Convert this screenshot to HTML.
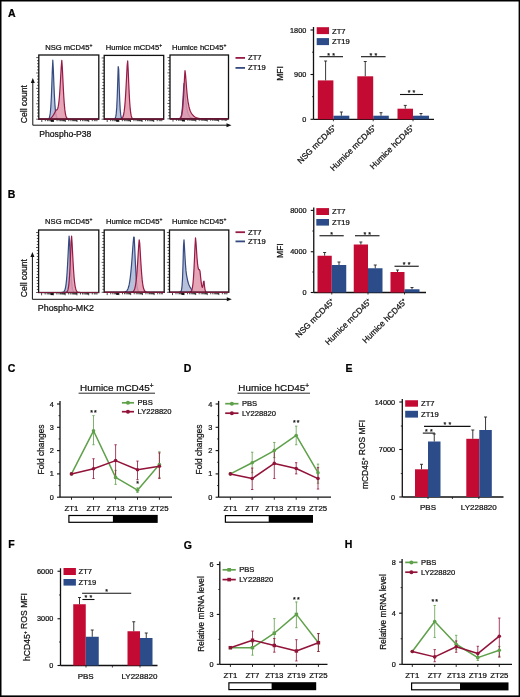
<!DOCTYPE html>
<html><head><meta charset="utf-8"><style>
html,body{margin:0;padding:0;background:#fff;width:520px;height:697px;overflow:hidden}
svg{display:block;filter:blur(0.3px)}
text{font-family:"Liberation Sans", sans-serif;stroke:currentColor;stroke-width:0.24px}
</style></head><body>
<svg width="520" height="697" viewBox="0 0 520 697">
<rect width="520" height="697" fill="#fff"/>
<rect x="0" y="0" width="520" height="1.5" fill="#000"/>
<rect x="0" y="0" width="1.5" height="697" fill="#000"/>
<rect x="518.6" y="0" width="1.3999999999999773" height="697" fill="#000"/>
<rect x="0" y="695.4" width="520" height="1.6000000000000227" fill="#000"/>
<text x="8.0" y="16.6" font-size="10.5" text-anchor="start" font-weight="bold" fill="#000" color="#000">A</text>
<text x="7.75" y="197.8" font-size="10.5" text-anchor="start" font-weight="bold" fill="#000" color="#000">B</text>
<text x="7.75" y="372.2" font-size="10.5" text-anchor="start" font-weight="bold" fill="#000" color="#000">C</text>
<text x="183.85" y="372.1" font-size="10.5" text-anchor="start" font-weight="bold" fill="#000" color="#000">D</text>
<text x="345.45" y="372.1" font-size="10.5" text-anchor="start" font-weight="bold" fill="#000" color="#000">E</text>
<text x="8.35" y="548.4" font-size="10.5" text-anchor="start" font-weight="bold" fill="#000" color="#000">F</text>
<text x="183.85" y="548.5" font-size="10.5" text-anchor="start" font-weight="bold" fill="#000" color="#000">G</text>
<text x="344.85" y="548.4" font-size="10.5" text-anchor="start" font-weight="bold" fill="#000" color="#000">H</text>
<text x="68.8" y="49.8" font-size="7.6" text-anchor="middle" font-weight="normal" fill="#111" color="#111">NSG mCD45<tspan font-size="5" dy="-3">+</tspan></text>
<line x1="36.199999999999996" y1="119.2" x2="38.8" y2="119.2" stroke="#1a1a1a" stroke-width="0.7"/>
<line x1="37.0" y1="116.11840000000001" x2="38.8" y2="116.11840000000001" stroke="#1a1a1a" stroke-width="0.7"/>
<line x1="37.0" y1="113.0368" x2="38.8" y2="113.0368" stroke="#1a1a1a" stroke-width="0.7"/>
<line x1="37.0" y1="109.9552" x2="38.8" y2="109.9552" stroke="#1a1a1a" stroke-width="0.7"/>
<line x1="37.0" y1="106.87360000000001" x2="38.8" y2="106.87360000000001" stroke="#1a1a1a" stroke-width="0.7"/>
<line x1="36.199999999999996" y1="103.792" x2="38.8" y2="103.792" stroke="#1a1a1a" stroke-width="0.7"/>
<line x1="37.0" y1="100.7104" x2="38.8" y2="100.7104" stroke="#1a1a1a" stroke-width="0.7"/>
<line x1="37.0" y1="97.6288" x2="38.8" y2="97.6288" stroke="#1a1a1a" stroke-width="0.7"/>
<line x1="37.0" y1="94.5472" x2="38.8" y2="94.5472" stroke="#1a1a1a" stroke-width="0.7"/>
<line x1="37.0" y1="91.4656" x2="38.8" y2="91.4656" stroke="#1a1a1a" stroke-width="0.7"/>
<line x1="36.199999999999996" y1="88.384" x2="38.8" y2="88.384" stroke="#1a1a1a" stroke-width="0.7"/>
<line x1="37.0" y1="85.3024" x2="38.8" y2="85.3024" stroke="#1a1a1a" stroke-width="0.7"/>
<line x1="37.0" y1="82.2208" x2="38.8" y2="82.2208" stroke="#1a1a1a" stroke-width="0.7"/>
<line x1="37.0" y1="79.1392" x2="38.8" y2="79.1392" stroke="#1a1a1a" stroke-width="0.7"/>
<line x1="37.0" y1="76.05760000000001" x2="38.8" y2="76.05760000000001" stroke="#1a1a1a" stroke-width="0.7"/>
<line x1="36.199999999999996" y1="72.976" x2="38.8" y2="72.976" stroke="#1a1a1a" stroke-width="0.7"/>
<line x1="37.0" y1="69.8944" x2="38.8" y2="69.8944" stroke="#1a1a1a" stroke-width="0.7"/>
<line x1="37.0" y1="66.8128" x2="38.8" y2="66.8128" stroke="#1a1a1a" stroke-width="0.7"/>
<line x1="37.0" y1="63.731199999999994" x2="38.8" y2="63.731199999999994" stroke="#1a1a1a" stroke-width="0.7"/>
<line x1="37.0" y1="60.64960000000001" x2="38.8" y2="60.64960000000001" stroke="#1a1a1a" stroke-width="0.7"/>
<line x1="36.199999999999996" y1="57.568000000000005" x2="38.8" y2="57.568000000000005" stroke="#1a1a1a" stroke-width="0.7"/>
<line x1="41.8" y1="119.2" x2="41.8" y2="122.0" stroke="#1a1a1a" stroke-width="0.8"/>
<line x1="45.33383038388152" y1="119.2" x2="45.33383038388152" y2="121.2" stroke="#1a1a1a" stroke-width="0.8"/>
<line x1="47.400988642361256" y1="119.2" x2="47.400988642361256" y2="121.2" stroke="#1a1a1a" stroke-width="0.8"/>
<line x1="48.867660767763034" y1="119.2" x2="48.867660767763034" y2="121.2" stroke="#1a1a1a" stroke-width="0.8"/>
<line x1="50.005300050901084" y1="119.2" x2="50.005300050901084" y2="121.2" stroke="#1a1a1a" stroke-width="0.8"/>
<line x1="50.93481902624277" y1="119.2" x2="50.93481902624277" y2="121.2" stroke="#1a1a1a" stroke-width="0.8"/>
<line x1="51.72071612190649" y1="119.2" x2="51.72071612190649" y2="121.2" stroke="#1a1a1a" stroke-width="0.8"/>
<line x1="52.40149115164455" y1="119.2" x2="52.40149115164455" y2="121.2" stroke="#1a1a1a" stroke-width="0.8"/>
<line x1="53.00197728472251" y1="119.2" x2="53.00197728472251" y2="121.2" stroke="#1a1a1a" stroke-width="0.8"/>
<line x1="53.53913043478261" y1="119.2" x2="53.53913043478261" y2="122.0" stroke="#1a1a1a" stroke-width="0.8"/>
<line x1="57.07296081866413" y1="119.2" x2="57.07296081866413" y2="121.2" stroke="#1a1a1a" stroke-width="0.8"/>
<line x1="59.140119077143865" y1="119.2" x2="59.140119077143865" y2="121.2" stroke="#1a1a1a" stroke-width="0.8"/>
<line x1="60.606791202545644" y1="119.2" x2="60.606791202545644" y2="121.2" stroke="#1a1a1a" stroke-width="0.8"/>
<line x1="61.744430485683694" y1="119.2" x2="61.744430485683694" y2="121.2" stroke="#1a1a1a" stroke-width="0.8"/>
<line x1="62.67394946102538" y1="119.2" x2="62.67394946102538" y2="121.2" stroke="#1a1a1a" stroke-width="0.8"/>
<line x1="63.4598465566891" y1="119.2" x2="63.4598465566891" y2="121.2" stroke="#1a1a1a" stroke-width="0.8"/>
<line x1="64.14062158642716" y1="119.2" x2="64.14062158642716" y2="121.2" stroke="#1a1a1a" stroke-width="0.8"/>
<line x1="64.74110771950512" y1="119.2" x2="64.74110771950512" y2="121.2" stroke="#1a1a1a" stroke-width="0.8"/>
<line x1="65.27826086956522" y1="119.2" x2="65.27826086956522" y2="122.0" stroke="#1a1a1a" stroke-width="0.8"/>
<line x1="68.81209125344674" y1="119.2" x2="68.81209125344674" y2="121.2" stroke="#1a1a1a" stroke-width="0.8"/>
<line x1="70.87924951192647" y1="119.2" x2="70.87924951192647" y2="121.2" stroke="#1a1a1a" stroke-width="0.8"/>
<line x1="72.34592163732825" y1="119.2" x2="72.34592163732825" y2="121.2" stroke="#1a1a1a" stroke-width="0.8"/>
<line x1="73.4835609204663" y1="119.2" x2="73.4835609204663" y2="121.2" stroke="#1a1a1a" stroke-width="0.8"/>
<line x1="74.41307989580798" y1="119.2" x2="74.41307989580798" y2="121.2" stroke="#1a1a1a" stroke-width="0.8"/>
<line x1="75.19897699147171" y1="119.2" x2="75.19897699147171" y2="121.2" stroke="#1a1a1a" stroke-width="0.8"/>
<line x1="75.87975202120977" y1="119.2" x2="75.87975202120977" y2="121.2" stroke="#1a1a1a" stroke-width="0.8"/>
<line x1="76.48023815428772" y1="119.2" x2="76.48023815428772" y2="121.2" stroke="#1a1a1a" stroke-width="0.8"/>
<line x1="77.01739130434783" y1="119.2" x2="77.01739130434783" y2="122.0" stroke="#1a1a1a" stroke-width="0.8"/>
<line x1="80.55122168822935" y1="119.2" x2="80.55122168822935" y2="121.2" stroke="#1a1a1a" stroke-width="0.8"/>
<line x1="82.61837994670908" y1="119.2" x2="82.61837994670908" y2="121.2" stroke="#1a1a1a" stroke-width="0.8"/>
<line x1="84.08505207211087" y1="119.2" x2="84.08505207211087" y2="121.2" stroke="#1a1a1a" stroke-width="0.8"/>
<line x1="85.22269135524891" y1="119.2" x2="85.22269135524891" y2="121.2" stroke="#1a1a1a" stroke-width="0.8"/>
<line x1="86.1522103305906" y1="119.2" x2="86.1522103305906" y2="121.2" stroke="#1a1a1a" stroke-width="0.8"/>
<line x1="86.93810742625432" y1="119.2" x2="86.93810742625432" y2="121.2" stroke="#1a1a1a" stroke-width="0.8"/>
<line x1="87.61888245599238" y1="119.2" x2="87.61888245599238" y2="121.2" stroke="#1a1a1a" stroke-width="0.8"/>
<line x1="88.21936858907034" y1="119.2" x2="88.21936858907034" y2="121.2" stroke="#1a1a1a" stroke-width="0.8"/>
<line x1="88.75652173913043" y1="119.2" x2="88.75652173913043" y2="122.0" stroke="#1a1a1a" stroke-width="0.8"/>
<line x1="92.29035212301196" y1="119.2" x2="92.29035212301196" y2="121.2" stroke="#1a1a1a" stroke-width="0.8"/>
<line x1="94.3575103814917" y1="119.2" x2="94.3575103814917" y2="121.2" stroke="#1a1a1a" stroke-width="0.8"/>
<line x1="95.82418250689346" y1="119.2" x2="95.82418250689346" y2="121.2" stroke="#1a1a1a" stroke-width="0.8"/>
<line x1="96.96182179003152" y1="119.2" x2="96.96182179003152" y2="121.2" stroke="#1a1a1a" stroke-width="0.8"/>
<rect x="50.8" y="120.0" width="2.5" height="1.7999999999999972" fill="#111"/>
<path d="M39.30,119.20 L39.30,119.20 L39.80,119.20 L40.30,119.20 L40.80,119.20 L41.30,119.20 L41.80,119.20 L42.30,119.20 L42.80,119.20 L43.30,119.20 L43.80,119.20 L44.30,119.20 L44.80,119.20 L45.30,119.20 L45.80,119.20 L46.30,119.19 L46.80,119.18 L47.30,119.16 L47.80,119.09 L48.30,118.92 L48.80,118.54 L49.30,117.71 L49.80,116.01 L50.30,112.79 L50.80,107.15 L51.30,98.17 L51.80,85.55 L52.30,70.83 L52.80,60.20 L53.30,68.93 L53.80,81.70 L54.30,93.54 L54.80,102.82 L55.30,109.36 L55.80,113.60 L56.30,116.16 L56.80,117.63 L57.30,118.42 L57.80,118.83 L58.30,119.03 L58.80,119.12 L59.30,119.17 L59.80,119.19 L60.30,119.19 L60.80,119.20 L61.30,119.20 L61.80,119.20 L62.30,119.20 L62.80,119.20 L63.30,119.20 L63.80,119.20 L64.30,119.20 L64.80,119.20 L65.30,119.20 L65.80,119.20 L66.30,119.20 L66.80,119.20 L67.30,119.20 L67.80,119.20 L68.30,119.20 L68.80,119.20 L69.30,119.20 L69.80,119.20 L70.30,119.20 L70.80,119.20 L71.30,119.20 L71.80,119.20 L72.30,119.20 L72.80,119.20 L73.30,119.20 L73.80,119.20 L74.30,119.20 L74.80,119.20 L75.30,119.20 L75.80,119.20 L76.30,119.20 L76.80,119.20 L77.30,119.20 L77.80,119.20 L78.30,119.20 L78.80,119.20 L79.30,119.20 L79.80,119.20 L80.30,119.20 L80.80,119.20 L81.30,119.20 L81.80,119.20 L82.30,119.20 L82.80,119.20 L83.30,119.20 L83.80,119.20 L84.30,119.20 L84.80,119.20 L85.30,119.20 L85.80,119.20 L86.30,119.20 L86.80,119.20 L87.30,119.20 L87.80,119.20 L88.30,119.20 L88.80,119.20 L89.30,119.20 L89.80,119.20 L90.30,119.20 L90.80,119.20 L91.30,119.20 L91.80,119.20 L92.30,119.20 L92.80,119.20 L93.30,119.20 L93.80,119.20 L94.30,119.20 L94.80,119.20 L95.30,119.20 L95.80,119.20 L96.30,119.20 L96.80,119.20 L97.30,119.20 L97.80,119.20 L98.30,119.20 L98.30,119.20 Z" fill="#aab6d2" fill-opacity="0.85" stroke="#344a80" stroke-width="1.2" stroke-linejoin="round"/>
<path d="M39.30,119.20 L39.30,119.20 L39.80,119.20 L40.30,119.20 L40.80,119.20 L41.30,119.20 L41.80,119.20 L42.30,119.20 L42.80,119.20 L43.30,119.19 L43.80,119.19 L44.30,119.19 L44.80,119.18 L45.30,119.17 L45.80,119.16 L46.30,119.14 L46.80,119.11 L47.30,119.07 L47.80,119.01 L48.30,118.94 L48.80,118.84 L49.30,118.70 L49.80,118.53 L50.30,118.30 L50.80,118.00 L51.30,117.63 L51.80,117.18 L52.30,116.63 L52.80,115.98 L53.30,115.23 L53.80,114.38 L54.30,113.45 L54.80,112.47 L55.30,111.47 L55.80,110.55 L56.30,110.11 L56.80,109.91 L57.30,109.40 L57.80,108.26 L58.30,106.18 L58.80,102.86 L59.30,98.02 L59.80,91.53 L60.30,83.51 L60.80,74.50 L61.30,65.80 L61.80,60.35 L62.30,67.22 L62.80,77.64 L63.30,88.07 L63.80,97.08 L64.30,104.18 L64.80,109.41 L65.30,113.05 L65.80,115.46 L66.30,117.00 L66.80,117.94 L67.30,118.50 L67.80,118.82 L68.30,119.00 L68.80,119.10 L69.30,119.15 L69.80,119.17 L70.30,119.19 L70.80,119.19 L71.30,119.20 L71.80,119.20 L72.30,119.20 L72.80,119.20 L73.30,119.20 L73.80,119.20 L74.30,119.20 L74.80,119.20 L75.30,119.20 L75.80,119.20 L76.30,119.20 L76.80,119.20 L77.30,119.20 L77.80,119.20 L78.30,119.20 L78.80,119.20 L79.30,119.20 L79.80,119.20 L80.30,119.20 L80.80,119.20 L81.30,119.20 L81.80,119.20 L82.30,119.20 L82.80,119.20 L83.30,119.20 L83.80,119.20 L84.30,119.20 L84.80,119.20 L85.30,119.20 L85.80,119.20 L86.30,119.20 L86.80,119.20 L87.30,119.20 L87.80,119.20 L88.30,119.20 L88.80,119.20 L89.30,119.20 L89.80,119.20 L90.30,119.20 L90.80,119.20 L91.30,119.20 L91.80,119.20 L92.30,119.20 L92.80,119.20 L93.30,119.20 L93.80,119.20 L94.30,119.20 L94.80,119.20 L95.30,119.20 L95.80,119.20 L96.30,119.20 L96.80,119.20 L97.30,119.20 L97.80,119.20 L98.30,119.20 L98.30,119.20 Z" fill="#e096ac" fill-opacity="0.85" stroke="#981a46" stroke-width="1.2" stroke-linejoin="round"/>
<rect x="38.8" y="55" width="60.0" height="64.2" fill="none" stroke="#111" stroke-width="1.3"/>
<line x1="38.8" y1="119.2" x2="98.8" y2="119.2" stroke="#7a1838" stroke-width="1.2"/>
<text x="133.95" y="49.8" font-size="7.6" text-anchor="middle" font-weight="normal" fill="#111" color="#111">Humice mCD45<tspan font-size="5" dy="-3">+</tspan></text>
<line x1="101.60000000000001" y1="119.2" x2="104.2" y2="119.2" stroke="#1a1a1a" stroke-width="0.7"/>
<line x1="102.4" y1="116.1376" x2="104.2" y2="116.1376" stroke="#1a1a1a" stroke-width="0.7"/>
<line x1="102.4" y1="113.0752" x2="104.2" y2="113.0752" stroke="#1a1a1a" stroke-width="0.7"/>
<line x1="102.4" y1="110.0128" x2="104.2" y2="110.0128" stroke="#1a1a1a" stroke-width="0.7"/>
<line x1="102.4" y1="106.9504" x2="104.2" y2="106.9504" stroke="#1a1a1a" stroke-width="0.7"/>
<line x1="101.60000000000001" y1="103.888" x2="104.2" y2="103.888" stroke="#1a1a1a" stroke-width="0.7"/>
<line x1="102.4" y1="100.82560000000001" x2="104.2" y2="100.82560000000001" stroke="#1a1a1a" stroke-width="0.7"/>
<line x1="102.4" y1="97.7632" x2="104.2" y2="97.7632" stroke="#1a1a1a" stroke-width="0.7"/>
<line x1="102.4" y1="94.7008" x2="104.2" y2="94.7008" stroke="#1a1a1a" stroke-width="0.7"/>
<line x1="102.4" y1="91.6384" x2="104.2" y2="91.6384" stroke="#1a1a1a" stroke-width="0.7"/>
<line x1="101.60000000000001" y1="88.57600000000001" x2="104.2" y2="88.57600000000001" stroke="#1a1a1a" stroke-width="0.7"/>
<line x1="102.4" y1="85.5136" x2="104.2" y2="85.5136" stroke="#1a1a1a" stroke-width="0.7"/>
<line x1="102.4" y1="82.4512" x2="104.2" y2="82.4512" stroke="#1a1a1a" stroke-width="0.7"/>
<line x1="102.4" y1="79.3888" x2="104.2" y2="79.3888" stroke="#1a1a1a" stroke-width="0.7"/>
<line x1="102.4" y1="76.3264" x2="104.2" y2="76.3264" stroke="#1a1a1a" stroke-width="0.7"/>
<line x1="101.60000000000001" y1="73.264" x2="104.2" y2="73.264" stroke="#1a1a1a" stroke-width="0.7"/>
<line x1="102.4" y1="70.2016" x2="104.2" y2="70.2016" stroke="#1a1a1a" stroke-width="0.7"/>
<line x1="102.4" y1="67.1392" x2="104.2" y2="67.1392" stroke="#1a1a1a" stroke-width="0.7"/>
<line x1="102.4" y1="64.0768" x2="104.2" y2="64.0768" stroke="#1a1a1a" stroke-width="0.7"/>
<line x1="102.4" y1="61.01440000000001" x2="104.2" y2="61.01440000000001" stroke="#1a1a1a" stroke-width="0.7"/>
<line x1="101.60000000000001" y1="57.952000000000005" x2="104.2" y2="57.952000000000005" stroke="#1a1a1a" stroke-width="0.7"/>
<line x1="107.2" y1="119.2" x2="107.2" y2="122.0" stroke="#1a1a1a" stroke-width="0.8"/>
<line x1="110.70110973217892" y1="119.2" x2="110.70110973217892" y2="121.2" stroke="#1a1a1a" stroke-width="0.8"/>
<line x1="112.74912763641346" y1="119.2" x2="112.74912763641346" y2="121.2" stroke="#1a1a1a" stroke-width="0.8"/>
<line x1="114.20221946435782" y1="119.2" x2="114.20221946435782" y2="121.2" stroke="#1a1a1a" stroke-width="0.8"/>
<line x1="115.32932505042979" y1="119.2" x2="115.32932505042979" y2="121.2" stroke="#1a1a1a" stroke-width="0.8"/>
<line x1="116.25023736859238" y1="119.2" x2="116.25023736859238" y2="121.2" stroke="#1a1a1a" stroke-width="0.8"/>
<line x1="117.02885763929625" y1="119.2" x2="117.02885763929625" y2="121.2" stroke="#1a1a1a" stroke-width="0.8"/>
<line x1="117.70332919653674" y1="119.2" x2="117.70332919653674" y2="121.2" stroke="#1a1a1a" stroke-width="0.8"/>
<line x1="118.29825527282694" y1="119.2" x2="118.29825527282694" y2="121.2" stroke="#1a1a1a" stroke-width="0.8"/>
<line x1="118.83043478260869" y1="119.2" x2="118.83043478260869" y2="122.0" stroke="#1a1a1a" stroke-width="0.8"/>
<line x1="122.33154451478761" y1="119.2" x2="122.33154451478761" y2="121.2" stroke="#1a1a1a" stroke-width="0.8"/>
<line x1="124.37956241902215" y1="119.2" x2="124.37956241902215" y2="121.2" stroke="#1a1a1a" stroke-width="0.8"/>
<line x1="125.83265424696651" y1="119.2" x2="125.83265424696651" y2="121.2" stroke="#1a1a1a" stroke-width="0.8"/>
<line x1="126.95975983303848" y1="119.2" x2="126.95975983303848" y2="121.2" stroke="#1a1a1a" stroke-width="0.8"/>
<line x1="127.88067215120107" y1="119.2" x2="127.88067215120107" y2="121.2" stroke="#1a1a1a" stroke-width="0.8"/>
<line x1="128.65929242190492" y1="119.2" x2="128.65929242190492" y2="121.2" stroke="#1a1a1a" stroke-width="0.8"/>
<line x1="129.33376397914543" y1="119.2" x2="129.33376397914543" y2="121.2" stroke="#1a1a1a" stroke-width="0.8"/>
<line x1="129.92869005543562" y1="119.2" x2="129.92869005543562" y2="121.2" stroke="#1a1a1a" stroke-width="0.8"/>
<line x1="130.4608695652174" y1="119.2" x2="130.4608695652174" y2="122.0" stroke="#1a1a1a" stroke-width="0.8"/>
<line x1="133.9619792973963" y1="119.2" x2="133.9619792973963" y2="121.2" stroke="#1a1a1a" stroke-width="0.8"/>
<line x1="136.00999720163085" y1="119.2" x2="136.00999720163085" y2="121.2" stroke="#1a1a1a" stroke-width="0.8"/>
<line x1="137.46308902957523" y1="119.2" x2="137.46308902957523" y2="121.2" stroke="#1a1a1a" stroke-width="0.8"/>
<line x1="138.59019461564716" y1="119.2" x2="138.59019461564716" y2="121.2" stroke="#1a1a1a" stroke-width="0.8"/>
<line x1="139.51110693380977" y1="119.2" x2="139.51110693380977" y2="121.2" stroke="#1a1a1a" stroke-width="0.8"/>
<line x1="140.28972720451364" y1="119.2" x2="140.28972720451364" y2="121.2" stroke="#1a1a1a" stroke-width="0.8"/>
<line x1="140.96419876175412" y1="119.2" x2="140.96419876175412" y2="121.2" stroke="#1a1a1a" stroke-width="0.8"/>
<line x1="141.5591248380443" y1="119.2" x2="141.5591248380443" y2="121.2" stroke="#1a1a1a" stroke-width="0.8"/>
<line x1="142.09130434782608" y1="119.2" x2="142.09130434782608" y2="122.0" stroke="#1a1a1a" stroke-width="0.8"/>
<line x1="145.592414080005" y1="119.2" x2="145.592414080005" y2="121.2" stroke="#1a1a1a" stroke-width="0.8"/>
<line x1="147.64043198423954" y1="119.2" x2="147.64043198423954" y2="121.2" stroke="#1a1a1a" stroke-width="0.8"/>
<line x1="149.09352381218392" y1="119.2" x2="149.09352381218392" y2="121.2" stroke="#1a1a1a" stroke-width="0.8"/>
<line x1="150.22062939825585" y1="119.2" x2="150.22062939825585" y2="121.2" stroke="#1a1a1a" stroke-width="0.8"/>
<line x1="151.14154171641846" y1="119.2" x2="151.14154171641846" y2="121.2" stroke="#1a1a1a" stroke-width="0.8"/>
<line x1="151.92016198712233" y1="119.2" x2="151.92016198712233" y2="121.2" stroke="#1a1a1a" stroke-width="0.8"/>
<line x1="152.5946335443628" y1="119.2" x2="152.5946335443628" y2="121.2" stroke="#1a1a1a" stroke-width="0.8"/>
<line x1="153.189559620653" y1="119.2" x2="153.189559620653" y2="121.2" stroke="#1a1a1a" stroke-width="0.8"/>
<line x1="153.72173913043477" y1="119.2" x2="153.72173913043477" y2="122.0" stroke="#1a1a1a" stroke-width="0.8"/>
<line x1="157.2228488626137" y1="119.2" x2="157.2228488626137" y2="121.2" stroke="#1a1a1a" stroke-width="0.8"/>
<line x1="159.27086676684823" y1="119.2" x2="159.27086676684823" y2="121.2" stroke="#1a1a1a" stroke-width="0.8"/>
<line x1="160.7239585947926" y1="119.2" x2="160.7239585947926" y2="121.2" stroke="#1a1a1a" stroke-width="0.8"/>
<line x1="161.85106418086454" y1="119.2" x2="161.85106418086454" y2="121.2" stroke="#1a1a1a" stroke-width="0.8"/>
<rect x="116.2" y="120.0" width="2.5" height="1.7999999999999972" fill="#111"/>
<path d="M104.70,119.20 L104.70,119.20 L105.20,119.20 L105.70,119.20 L106.20,119.20 L106.70,119.20 L107.20,119.20 L107.70,119.20 L108.20,119.20 L108.70,119.20 L109.20,119.20 L109.70,119.20 L110.20,119.20 L110.70,119.20 L111.20,119.20 L111.70,119.20 L112.20,119.20 L112.70,119.20 L113.20,119.19 L113.70,119.16 L114.20,119.09 L114.70,118.87 L115.20,118.30 L115.70,116.92 L116.20,113.88 L116.70,107.89 L117.20,97.51 L117.70,82.50 L118.20,66.70 L118.70,69.46 L119.20,85.78 L119.70,99.98 L120.20,109.40 L120.70,114.68 L121.20,117.30 L121.70,118.46 L122.20,118.93 L122.70,119.11 L123.20,119.17 L123.70,119.19 L124.20,119.20 L124.70,119.20 L125.20,119.20 L125.70,119.20 L126.20,119.20 L126.70,119.20 L127.20,119.20 L127.70,119.20 L128.20,119.20 L128.70,119.20 L129.20,119.20 L129.70,119.20 L130.20,119.20 L130.70,119.20 L131.20,119.20 L131.70,119.20 L132.20,119.20 L132.70,119.20 L133.20,119.20 L133.70,119.20 L134.20,119.20 L134.70,119.20 L135.20,119.20 L135.70,119.20 L136.20,119.20 L136.70,119.20 L137.20,119.20 L137.70,119.20 L138.20,119.20 L138.70,119.20 L139.20,119.20 L139.70,119.20 L140.20,119.20 L140.70,119.20 L141.20,119.20 L141.70,119.20 L142.20,119.20 L142.70,119.20 L143.20,119.20 L143.70,119.20 L144.20,119.20 L144.70,119.20 L145.20,119.20 L145.70,119.20 L146.20,119.20 L146.70,119.20 L147.20,119.20 L147.70,119.20 L148.20,119.20 L148.70,119.20 L149.20,119.20 L149.70,119.20 L150.20,119.20 L150.70,119.20 L151.20,119.20 L151.70,119.20 L152.20,119.20 L152.70,119.20 L153.20,119.20 L153.70,119.20 L154.20,119.20 L154.70,119.20 L155.20,119.20 L155.70,119.20 L156.20,119.20 L156.70,119.20 L157.20,119.20 L157.70,119.20 L158.20,119.20 L158.70,119.20 L159.20,119.20 L159.70,119.20 L160.20,119.20 L160.70,119.20 L161.20,119.20 L161.70,119.20 L162.20,119.20 L162.70,119.20 L163.20,119.20 L163.20,119.20 Z" fill="#aab6d2" fill-opacity="0.85" stroke="#344a80" stroke-width="1.2" stroke-linejoin="round"/>
<path d="M104.70,119.20 L104.70,119.20 L105.20,119.20 L105.70,119.20 L106.20,119.20 L106.70,119.20 L107.20,119.20 L107.70,119.20 L108.20,119.20 L108.70,119.20 L109.20,119.20 L109.70,119.20 L110.20,119.20 L110.70,119.20 L111.20,119.20 L111.70,119.20 L112.20,119.20 L112.70,119.20 L113.20,119.20 L113.70,119.20 L114.20,119.20 L114.70,119.20 L115.20,119.20 L115.70,119.20 L116.20,119.20 L116.70,119.20 L117.20,119.20 L117.70,119.20 L118.20,119.19 L118.70,119.19 L119.20,119.17 L119.70,119.15 L120.20,119.10 L120.70,119.01 L121.20,118.86 L121.70,118.58 L122.20,118.11 L122.70,117.32 L123.20,116.06 L123.70,114.10 L124.20,111.16 L124.70,106.92 L125.20,101.10 L125.70,93.54 L126.20,84.35 L126.70,74.22 L127.20,64.76 L127.70,60.96 L128.20,70.47 L128.70,82.49 L129.20,93.54 L129.70,102.33 L130.20,108.68 L130.70,112.95 L131.20,115.65 L131.70,117.26 L132.20,118.18 L132.70,118.68 L133.20,118.95 L133.70,119.08 L134.20,119.14 L134.70,119.18 L135.20,119.19 L135.70,119.20 L136.20,119.20 L136.70,119.20 L137.20,119.20 L137.70,119.20 L138.20,119.20 L138.70,119.20 L139.20,119.20 L139.70,119.20 L140.20,119.20 L140.70,119.20 L141.20,119.20 L141.70,119.20 L142.20,119.20 L142.70,119.20 L143.20,119.20 L143.70,119.20 L144.20,119.20 L144.70,119.20 L145.20,119.20 L145.70,119.20 L146.20,119.20 L146.70,119.20 L147.20,119.20 L147.70,119.20 L148.20,119.20 L148.70,119.20 L149.20,119.20 L149.70,119.20 L150.20,119.20 L150.70,119.20 L151.20,119.20 L151.70,119.20 L152.20,119.20 L152.70,119.20 L153.20,119.20 L153.70,119.20 L154.20,119.20 L154.70,119.20 L155.20,119.20 L155.70,119.20 L156.20,119.20 L156.70,119.20 L157.20,119.20 L157.70,119.20 L158.20,119.20 L158.70,119.20 L159.20,119.20 L159.70,119.20 L160.20,119.20 L160.70,119.20 L161.20,119.20 L161.70,119.20 L162.20,119.20 L162.70,119.20 L163.20,119.20 L163.20,119.20 Z" fill="#e096ac" fill-opacity="0.85" stroke="#981a46" stroke-width="1.2" stroke-linejoin="round"/>
<rect x="104.2" y="55.4" width="59.499999999999986" height="63.800000000000004" fill="none" stroke="#111" stroke-width="1.3"/>
<line x1="104.2" y1="119.2" x2="163.7" y2="119.2" stroke="#7a1838" stroke-width="1.2"/>
<text x="199.25" y="49.8" font-size="7.6" text-anchor="middle" font-weight="normal" fill="#111" color="#111">Humice hCD45<tspan font-size="5" dy="-3">+</tspan></text>
<line x1="167.4" y1="118.8" x2="170" y2="118.8" stroke="#1a1a1a" stroke-width="0.7"/>
<line x1="168.2" y1="115.7376" x2="170" y2="115.7376" stroke="#1a1a1a" stroke-width="0.7"/>
<line x1="168.2" y1="112.6752" x2="170" y2="112.6752" stroke="#1a1a1a" stroke-width="0.7"/>
<line x1="168.2" y1="109.6128" x2="170" y2="109.6128" stroke="#1a1a1a" stroke-width="0.7"/>
<line x1="168.2" y1="106.5504" x2="170" y2="106.5504" stroke="#1a1a1a" stroke-width="0.7"/>
<line x1="167.4" y1="103.488" x2="170" y2="103.488" stroke="#1a1a1a" stroke-width="0.7"/>
<line x1="168.2" y1="100.4256" x2="170" y2="100.4256" stroke="#1a1a1a" stroke-width="0.7"/>
<line x1="168.2" y1="97.3632" x2="170" y2="97.3632" stroke="#1a1a1a" stroke-width="0.7"/>
<line x1="168.2" y1="94.3008" x2="170" y2="94.3008" stroke="#1a1a1a" stroke-width="0.7"/>
<line x1="168.2" y1="91.2384" x2="170" y2="91.2384" stroke="#1a1a1a" stroke-width="0.7"/>
<line x1="167.4" y1="88.176" x2="170" y2="88.176" stroke="#1a1a1a" stroke-width="0.7"/>
<line x1="168.2" y1="85.1136" x2="170" y2="85.1136" stroke="#1a1a1a" stroke-width="0.7"/>
<line x1="168.2" y1="82.0512" x2="170" y2="82.0512" stroke="#1a1a1a" stroke-width="0.7"/>
<line x1="168.2" y1="78.9888" x2="170" y2="78.9888" stroke="#1a1a1a" stroke-width="0.7"/>
<line x1="168.2" y1="75.9264" x2="170" y2="75.9264" stroke="#1a1a1a" stroke-width="0.7"/>
<line x1="167.4" y1="72.864" x2="170" y2="72.864" stroke="#1a1a1a" stroke-width="0.7"/>
<line x1="168.2" y1="69.80160000000001" x2="170" y2="69.80160000000001" stroke="#1a1a1a" stroke-width="0.7"/>
<line x1="168.2" y1="66.73920000000001" x2="170" y2="66.73920000000001" stroke="#1a1a1a" stroke-width="0.7"/>
<line x1="168.2" y1="63.67680000000001" x2="170" y2="63.67680000000001" stroke="#1a1a1a" stroke-width="0.7"/>
<line x1="168.2" y1="60.6144" x2="170" y2="60.6144" stroke="#1a1a1a" stroke-width="0.7"/>
<line x1="167.4" y1="57.552" x2="170" y2="57.552" stroke="#1a1a1a" stroke-width="0.7"/>
<line x1="173.0" y1="118.8" x2="173.0" y2="121.6" stroke="#1a1a1a" stroke-width="0.8"/>
<line x1="176.4356684287737" y1="118.8" x2="176.4356684287737" y2="120.8" stroke="#1a1a1a" stroke-width="0.8"/>
<line x1="178.4454056245179" y1="118.8" x2="178.4454056245179" y2="120.8" stroke="#1a1a1a" stroke-width="0.8"/>
<line x1="179.8713368575474" y1="118.8" x2="179.8713368575474" y2="120.8" stroke="#1a1a1a" stroke-width="0.8"/>
<line x1="180.97737504948716" y1="118.8" x2="180.97737504948716" y2="120.8" stroke="#1a1a1a" stroke-width="0.8"/>
<line x1="181.8810740532916" y1="118.8" x2="181.8810740532916" y2="120.8" stroke="#1a1a1a" stroke-width="0.8"/>
<line x1="182.64514067407575" y1="118.8" x2="182.64514067407575" y2="120.8" stroke="#1a1a1a" stroke-width="0.8"/>
<line x1="183.3070052863211" y1="118.8" x2="183.3070052863211" y2="120.8" stroke="#1a1a1a" stroke-width="0.8"/>
<line x1="183.89081124903578" y1="118.8" x2="183.89081124903578" y2="120.8" stroke="#1a1a1a" stroke-width="0.8"/>
<line x1="184.41304347826087" y1="118.8" x2="184.41304347826087" y2="121.6" stroke="#1a1a1a" stroke-width="0.8"/>
<line x1="187.84871190703458" y1="118.8" x2="187.84871190703458" y2="120.8" stroke="#1a1a1a" stroke-width="0.8"/>
<line x1="189.85844910277876" y1="118.8" x2="189.85844910277876" y2="120.8" stroke="#1a1a1a" stroke-width="0.8"/>
<line x1="191.28438033580827" y1="118.8" x2="191.28438033580827" y2="120.8" stroke="#1a1a1a" stroke-width="0.8"/>
<line x1="192.39041852774804" y1="118.8" x2="192.39041852774804" y2="120.8" stroke="#1a1a1a" stroke-width="0.8"/>
<line x1="193.29411753155247" y1="118.8" x2="193.29411753155247" y2="120.8" stroke="#1a1a1a" stroke-width="0.8"/>
<line x1="194.05818415233662" y1="118.8" x2="194.05818415233662" y2="120.8" stroke="#1a1a1a" stroke-width="0.8"/>
<line x1="194.72004876458197" y1="118.8" x2="194.72004876458197" y2="120.8" stroke="#1a1a1a" stroke-width="0.8"/>
<line x1="195.30385472729665" y1="118.8" x2="195.30385472729665" y2="120.8" stroke="#1a1a1a" stroke-width="0.8"/>
<line x1="195.82608695652175" y1="118.8" x2="195.82608695652175" y2="121.6" stroke="#1a1a1a" stroke-width="0.8"/>
<line x1="199.26175538529546" y1="118.8" x2="199.26175538529546" y2="120.8" stroke="#1a1a1a" stroke-width="0.8"/>
<line x1="201.27149258103964" y1="118.8" x2="201.27149258103964" y2="120.8" stroke="#1a1a1a" stroke-width="0.8"/>
<line x1="202.69742381406914" y1="118.8" x2="202.69742381406914" y2="120.8" stroke="#1a1a1a" stroke-width="0.8"/>
<line x1="203.8034620060089" y1="118.8" x2="203.8034620060089" y2="120.8" stroke="#1a1a1a" stroke-width="0.8"/>
<line x1="204.70716100981335" y1="118.8" x2="204.70716100981335" y2="120.8" stroke="#1a1a1a" stroke-width="0.8"/>
<line x1="205.4712276305975" y1="118.8" x2="205.4712276305975" y2="120.8" stroke="#1a1a1a" stroke-width="0.8"/>
<line x1="206.13309224284285" y1="118.8" x2="206.13309224284285" y2="120.8" stroke="#1a1a1a" stroke-width="0.8"/>
<line x1="206.71689820555753" y1="118.8" x2="206.71689820555753" y2="120.8" stroke="#1a1a1a" stroke-width="0.8"/>
<line x1="207.23913043478262" y1="118.8" x2="207.23913043478262" y2="121.6" stroke="#1a1a1a" stroke-width="0.8"/>
<line x1="210.67479886355633" y1="118.8" x2="210.67479886355633" y2="120.8" stroke="#1a1a1a" stroke-width="0.8"/>
<line x1="212.6845360593005" y1="118.8" x2="212.6845360593005" y2="120.8" stroke="#1a1a1a" stroke-width="0.8"/>
<line x1="214.11046729233001" y1="118.8" x2="214.11046729233001" y2="120.8" stroke="#1a1a1a" stroke-width="0.8"/>
<line x1="215.2165054842698" y1="118.8" x2="215.2165054842698" y2="120.8" stroke="#1a1a1a" stroke-width="0.8"/>
<line x1="216.12020448807422" y1="118.8" x2="216.12020448807422" y2="120.8" stroke="#1a1a1a" stroke-width="0.8"/>
<line x1="216.88427110885837" y1="118.8" x2="216.88427110885837" y2="120.8" stroke="#1a1a1a" stroke-width="0.8"/>
<line x1="217.54613572110372" y1="118.8" x2="217.54613572110372" y2="120.8" stroke="#1a1a1a" stroke-width="0.8"/>
<line x1="218.1299416838184" y1="118.8" x2="218.1299416838184" y2="120.8" stroke="#1a1a1a" stroke-width="0.8"/>
<line x1="218.6521739130435" y1="118.8" x2="218.6521739130435" y2="121.6" stroke="#1a1a1a" stroke-width="0.8"/>
<line x1="222.0878423418172" y1="118.8" x2="222.0878423418172" y2="120.8" stroke="#1a1a1a" stroke-width="0.8"/>
<line x1="224.0975795375614" y1="118.8" x2="224.0975795375614" y2="120.8" stroke="#1a1a1a" stroke-width="0.8"/>
<line x1="225.5235107705909" y1="118.8" x2="225.5235107705909" y2="120.8" stroke="#1a1a1a" stroke-width="0.8"/>
<line x1="226.62954896253066" y1="118.8" x2="226.62954896253066" y2="120.8" stroke="#1a1a1a" stroke-width="0.8"/>
<rect x="182" y="119.6" width="2.5" height="1.7999999999999972" fill="#111"/>
<path d="M170.50,118.80 L170.50,118.80 L171.00,118.80 L171.50,118.80 L172.00,118.80 L172.50,118.80 L173.00,118.80 L173.50,118.80 L174.00,118.80 L174.50,118.80 L175.00,118.80 L175.50,118.80 L176.00,118.80 L176.50,118.80 L177.00,118.80 L177.50,118.80 L178.00,118.79 L178.50,118.77 L179.00,118.73 L179.50,118.63 L180.00,118.40 L180.50,117.90 L181.00,116.88 L181.50,114.96 L182.00,111.61 L182.50,106.26 L183.00,98.75 L183.50,89.93 L184.00,83.43 L184.50,87.01 L185.00,92.62 L185.50,98.16 L186.00,102.81 L186.50,106.36 L187.00,109.05 L187.50,111.41 L188.00,113.20 L188.50,114.54 L189.00,115.53 L189.50,116.27 L190.00,116.84 L190.50,117.28 L191.00,117.63 L191.50,117.90 L192.00,118.12 L192.50,118.29 L193.00,118.42 L193.50,118.52 L194.00,118.59 L194.50,118.65 L195.00,118.69 L195.50,118.72 L196.00,118.75 L196.50,118.76 L197.00,118.77 L197.50,118.78 L198.00,118.79 L198.50,118.79 L199.00,118.79 L199.50,118.80 L200.00,118.80 L200.50,118.80 L201.00,118.80 L201.50,118.80 L202.00,118.80 L202.50,118.80 L203.00,118.80 L203.50,118.80 L204.00,118.80 L204.50,118.80 L205.00,118.80 L205.50,118.80 L206.00,118.80 L206.50,118.80 L207.00,118.80 L207.50,118.80 L208.00,118.80 L208.50,118.80 L209.00,118.80 L209.50,118.80 L210.00,118.80 L210.50,118.80 L211.00,118.80 L211.50,118.80 L212.00,118.80 L212.50,118.80 L213.00,118.80 L213.50,118.80 L214.00,118.80 L214.50,118.80 L215.00,118.80 L215.50,118.80 L216.00,118.80 L216.50,118.80 L217.00,118.80 L217.50,118.80 L218.00,118.80 L218.50,118.80 L219.00,118.80 L219.50,118.80 L220.00,118.80 L220.50,118.80 L221.00,118.80 L221.50,118.80 L222.00,118.80 L222.50,118.80 L223.00,118.80 L223.50,118.80 L224.00,118.80 L224.50,118.80 L225.00,118.80 L225.50,118.80 L226.00,118.80 L226.50,118.80 L227.00,118.80 L227.50,118.80 L228.00,118.80 L228.00,118.80 Z" fill="#aab6d2" fill-opacity="0.85" stroke="#344a80" stroke-width="1.2" stroke-linejoin="round"/>
<path d="M170.50,118.80 L170.50,118.80 L171.00,118.80 L171.50,118.80 L172.00,118.80 L172.50,118.80 L173.00,118.80 L173.50,118.80 L174.00,118.80 L174.50,118.80 L175.00,118.80 L175.50,118.80 L176.00,118.79 L176.50,118.79 L177.00,118.78 L177.50,118.77 L178.00,118.76 L178.50,118.72 L179.00,118.67 L179.50,118.56 L180.00,118.36 L180.50,117.99 L181.00,117.29 L181.50,116.05 L182.00,113.92 L182.50,110.45 L183.00,105.16 L183.50,97.68 L184.00,88.15 L184.50,77.82 L185.00,70.50 L185.50,74.32 L186.00,80.65 L186.50,87.22 L187.00,93.05 L187.50,97.77 L188.00,101.38 L188.50,104.18 L189.00,106.72 L189.50,108.73 L190.00,110.29 L190.50,111.53 L191.00,112.53 L191.50,113.37 L192.00,114.09 L192.50,114.71 L193.00,115.26 L193.50,115.75 L194.00,116.19 L194.50,116.57 L195.00,116.91 L195.50,117.21 L196.00,117.46 L196.50,117.69 L197.00,117.88 L197.50,118.04 L198.00,118.18 L198.50,118.29 L199.00,118.39 L199.50,118.47 L200.00,118.53 L200.50,118.59 L201.00,118.63 L201.50,118.67 L202.00,118.69 L202.50,118.72 L203.00,118.74 L203.50,118.75 L204.00,118.76 L204.50,118.77 L205.00,118.78 L205.50,118.78 L206.00,118.79 L206.50,118.79 L207.00,118.79 L207.50,118.79 L208.00,118.80 L208.50,118.80 L209.00,118.80 L209.50,118.80 L210.00,118.80 L210.50,118.80 L211.00,118.80 L211.50,118.80 L212.00,118.80 L212.50,118.80 L213.00,118.80 L213.50,118.80 L214.00,118.80 L214.50,118.80 L215.00,118.80 L215.50,118.80 L216.00,118.80 L216.50,118.80 L217.00,118.80 L217.50,118.80 L218.00,118.80 L218.50,118.80 L219.00,118.80 L219.50,118.80 L220.00,118.80 L220.50,118.80 L221.00,118.80 L221.50,118.80 L222.00,118.80 L222.50,118.80 L223.00,118.80 L223.50,118.80 L224.00,118.80 L224.50,118.80 L225.00,118.80 L225.50,118.80 L226.00,118.80 L226.50,118.80 L227.00,118.80 L227.50,118.80 L228.00,118.80 L228.00,118.80 Z" fill="#e096ac" fill-opacity="0.85" stroke="#981a46" stroke-width="1.2" stroke-linejoin="round"/>
<rect x="170" y="55" width="58.5" height="63.8" fill="none" stroke="#111" stroke-width="1.3"/>
<line x1="170" y1="118.8" x2="228.5" y2="118.8" stroke="#7a1838" stroke-width="1.2"/>
<line x1="32.8" y1="125.2" x2="32.8" y2="82" stroke="#111" stroke-width="1"/>
<path d="M30.799999999999997,83 L32.8,78 L34.8,83 Z" fill="#111"/>
<line x1="32.8" y1="125.2" x2="227.5" y2="125.2" stroke="#111" stroke-width="1"/>
<path d="M226.5,123.2 L231.5,125.2 L226.5,127.2 Z" fill="#111"/>
<text x="27.299999999999997" y="104.1" font-size="8.6" text-anchor="middle" font-weight="normal" fill="#111" color="#111" transform="rotate(-90 27.299999999999997 104.1)">Cell count</text>
<text x="39.3" y="137" font-size="8.6" text-anchor="start" font-weight="normal" fill="#111" color="#111">Phospho-P38</text>
<line x1="235.5" y1="57.9" x2="245" y2="57.9" stroke="#981a46" stroke-width="1.8"/>
<text x="248" y="60.3" font-size="7.6" text-anchor="start" font-weight="normal" fill="#111" color="#111">ZT7</text>
<line x1="235.5" y1="67.9" x2="245" y2="67.9" stroke="#344a80" stroke-width="1.8"/>
<text x="248" y="70.30000000000001" font-size="7.6" text-anchor="start" font-weight="normal" fill="#111" color="#111">ZT19</text>
<text x="68.7" y="224" font-size="7.6" text-anchor="middle" font-weight="normal" fill="#111" color="#111">NSG mCD45<tspan font-size="5" dy="-3">+</tspan></text>
<line x1="36.0" y1="292.5" x2="38.6" y2="292.5" stroke="#1a1a1a" stroke-width="0.7"/>
<line x1="36.800000000000004" y1="289.5" x2="38.6" y2="289.5" stroke="#1a1a1a" stroke-width="0.7"/>
<line x1="36.800000000000004" y1="286.5" x2="38.6" y2="286.5" stroke="#1a1a1a" stroke-width="0.7"/>
<line x1="36.800000000000004" y1="283.5" x2="38.6" y2="283.5" stroke="#1a1a1a" stroke-width="0.7"/>
<line x1="36.800000000000004" y1="280.5" x2="38.6" y2="280.5" stroke="#1a1a1a" stroke-width="0.7"/>
<line x1="36.0" y1="277.5" x2="38.6" y2="277.5" stroke="#1a1a1a" stroke-width="0.7"/>
<line x1="36.800000000000004" y1="274.5" x2="38.6" y2="274.5" stroke="#1a1a1a" stroke-width="0.7"/>
<line x1="36.800000000000004" y1="271.5" x2="38.6" y2="271.5" stroke="#1a1a1a" stroke-width="0.7"/>
<line x1="36.800000000000004" y1="268.5" x2="38.6" y2="268.5" stroke="#1a1a1a" stroke-width="0.7"/>
<line x1="36.800000000000004" y1="265.5" x2="38.6" y2="265.5" stroke="#1a1a1a" stroke-width="0.7"/>
<line x1="36.0" y1="262.5" x2="38.6" y2="262.5" stroke="#1a1a1a" stroke-width="0.7"/>
<line x1="36.800000000000004" y1="259.5" x2="38.6" y2="259.5" stroke="#1a1a1a" stroke-width="0.7"/>
<line x1="36.800000000000004" y1="256.5" x2="38.6" y2="256.5" stroke="#1a1a1a" stroke-width="0.7"/>
<line x1="36.800000000000004" y1="253.5" x2="38.6" y2="253.5" stroke="#1a1a1a" stroke-width="0.7"/>
<line x1="36.800000000000004" y1="250.5" x2="38.6" y2="250.5" stroke="#1a1a1a" stroke-width="0.7"/>
<line x1="36.0" y1="247.5" x2="38.6" y2="247.5" stroke="#1a1a1a" stroke-width="0.7"/>
<line x1="36.800000000000004" y1="244.5" x2="38.6" y2="244.5" stroke="#1a1a1a" stroke-width="0.7"/>
<line x1="36.800000000000004" y1="241.5" x2="38.6" y2="241.5" stroke="#1a1a1a" stroke-width="0.7"/>
<line x1="36.800000000000004" y1="238.5" x2="38.6" y2="238.5" stroke="#1a1a1a" stroke-width="0.7"/>
<line x1="36.800000000000004" y1="235.5" x2="38.6" y2="235.5" stroke="#1a1a1a" stroke-width="0.7"/>
<line x1="36.0" y1="232.5" x2="38.6" y2="232.5" stroke="#1a1a1a" stroke-width="0.7"/>
<line x1="41.6" y1="292.5" x2="41.6" y2="295.3" stroke="#1a1a1a" stroke-width="0.8"/>
<line x1="45.14691864456256" y1="292.5" x2="45.14691864456256" y2="294.5" stroke="#1a1a1a" stroke-width="0.8"/>
<line x1="47.221733044740375" y1="292.5" x2="47.221733044740375" y2="294.5" stroke="#1a1a1a" stroke-width="0.8"/>
<line x1="48.69383728912512" y1="292.5" x2="48.69383728912512" y2="294.5" stroke="#1a1a1a" stroke-width="0.8"/>
<line x1="49.835690051089614" y1="292.5" x2="49.835690051089614" y2="294.5" stroke="#1a1a1a" stroke-width="0.8"/>
<line x1="50.768651689302935" y1="292.5" x2="50.768651689302935" y2="294.5" stroke="#1a1a1a" stroke-width="0.8"/>
<line x1="51.557459514950594" y1="292.5" x2="51.557459514950594" y2="294.5" stroke="#1a1a1a" stroke-width="0.8"/>
<line x1="52.24075593368768" y1="292.5" x2="52.24075593368768" y2="294.5" stroke="#1a1a1a" stroke-width="0.8"/>
<line x1="52.84346608948074" y1="292.5" x2="52.84346608948074" y2="294.5" stroke="#1a1a1a" stroke-width="0.8"/>
<line x1="53.38260869565217" y1="292.5" x2="53.38260869565217" y2="295.3" stroke="#1a1a1a" stroke-width="0.8"/>
<line x1="56.92952734021473" y1="292.5" x2="56.92952734021473" y2="294.5" stroke="#1a1a1a" stroke-width="0.8"/>
<line x1="59.00434174039255" y1="292.5" x2="59.00434174039255" y2="294.5" stroke="#1a1a1a" stroke-width="0.8"/>
<line x1="60.47644598477729" y1="292.5" x2="60.47644598477729" y2="294.5" stroke="#1a1a1a" stroke-width="0.8"/>
<line x1="61.618298746741786" y1="292.5" x2="61.618298746741786" y2="294.5" stroke="#1a1a1a" stroke-width="0.8"/>
<line x1="62.55126038495511" y1="292.5" x2="62.55126038495511" y2="294.5" stroke="#1a1a1a" stroke-width="0.8"/>
<line x1="63.340068210602766" y1="292.5" x2="63.340068210602766" y2="294.5" stroke="#1a1a1a" stroke-width="0.8"/>
<line x1="64.02336462933985" y1="292.5" x2="64.02336462933985" y2="294.5" stroke="#1a1a1a" stroke-width="0.8"/>
<line x1="64.62607478513291" y1="292.5" x2="64.62607478513291" y2="294.5" stroke="#1a1a1a" stroke-width="0.8"/>
<line x1="65.16521739130435" y1="292.5" x2="65.16521739130435" y2="295.3" stroke="#1a1a1a" stroke-width="0.8"/>
<line x1="68.71213603586692" y1="292.5" x2="68.71213603586692" y2="294.5" stroke="#1a1a1a" stroke-width="0.8"/>
<line x1="70.78695043604472" y1="292.5" x2="70.78695043604472" y2="294.5" stroke="#1a1a1a" stroke-width="0.8"/>
<line x1="72.25905468042947" y1="292.5" x2="72.25905468042947" y2="294.5" stroke="#1a1a1a" stroke-width="0.8"/>
<line x1="73.40090744239397" y1="292.5" x2="73.40090744239397" y2="294.5" stroke="#1a1a1a" stroke-width="0.8"/>
<line x1="74.33386908060729" y1="292.5" x2="74.33386908060729" y2="294.5" stroke="#1a1a1a" stroke-width="0.8"/>
<line x1="75.12267690625494" y1="292.5" x2="75.12267690625494" y2="294.5" stroke="#1a1a1a" stroke-width="0.8"/>
<line x1="75.80597332499204" y1="292.5" x2="75.80597332499204" y2="294.5" stroke="#1a1a1a" stroke-width="0.8"/>
<line x1="76.4086834807851" y1="292.5" x2="76.4086834807851" y2="294.5" stroke="#1a1a1a" stroke-width="0.8"/>
<line x1="76.94782608695652" y1="292.5" x2="76.94782608695652" y2="295.3" stroke="#1a1a1a" stroke-width="0.8"/>
<line x1="80.49474473151909" y1="292.5" x2="80.49474473151909" y2="294.5" stroke="#1a1a1a" stroke-width="0.8"/>
<line x1="82.56955913169689" y1="292.5" x2="82.56955913169689" y2="294.5" stroke="#1a1a1a" stroke-width="0.8"/>
<line x1="84.04166337608164" y1="292.5" x2="84.04166337608164" y2="294.5" stroke="#1a1a1a" stroke-width="0.8"/>
<line x1="85.18351613804614" y1="292.5" x2="85.18351613804614" y2="294.5" stroke="#1a1a1a" stroke-width="0.8"/>
<line x1="86.11647777625946" y1="292.5" x2="86.11647777625946" y2="294.5" stroke="#1a1a1a" stroke-width="0.8"/>
<line x1="86.90528560190711" y1="292.5" x2="86.90528560190711" y2="294.5" stroke="#1a1a1a" stroke-width="0.8"/>
<line x1="87.58858202064421" y1="292.5" x2="87.58858202064421" y2="294.5" stroke="#1a1a1a" stroke-width="0.8"/>
<line x1="88.19129217643726" y1="292.5" x2="88.19129217643726" y2="294.5" stroke="#1a1a1a" stroke-width="0.8"/>
<line x1="88.7304347826087" y1="292.5" x2="88.7304347826087" y2="295.3" stroke="#1a1a1a" stroke-width="0.8"/>
<line x1="92.27735342717126" y1="292.5" x2="92.27735342717126" y2="294.5" stroke="#1a1a1a" stroke-width="0.8"/>
<line x1="94.35216782734906" y1="292.5" x2="94.35216782734906" y2="294.5" stroke="#1a1a1a" stroke-width="0.8"/>
<line x1="95.82427207173382" y1="292.5" x2="95.82427207173382" y2="294.5" stroke="#1a1a1a" stroke-width="0.8"/>
<line x1="96.96612483369832" y1="292.5" x2="96.96612483369832" y2="294.5" stroke="#1a1a1a" stroke-width="0.8"/>
<rect x="50.6" y="293.3" width="2.5" height="1.8000000000000114" fill="#111"/>
<path d="M39.10,292.50 L39.10,292.50 L39.60,292.50 L40.10,292.50 L40.60,292.50 L41.10,292.50 L41.60,292.50 L42.10,292.50 L42.60,292.50 L43.10,292.50 L43.60,292.50 L44.10,292.50 L44.60,292.50 L45.10,292.50 L45.60,292.50 L46.10,292.50 L46.60,292.50 L47.10,292.50 L47.60,292.50 L48.10,292.50 L48.60,292.50 L49.10,292.50 L49.60,292.50 L50.10,292.50 L50.60,292.50 L51.10,292.50 L51.60,292.50 L52.10,292.50 L52.60,292.50 L53.10,292.50 L53.60,292.50 L54.10,292.50 L54.60,292.50 L55.10,292.50 L55.60,292.50 L56.10,292.50 L56.60,292.50 L57.10,292.50 L57.60,292.50 L58.10,292.50 L58.60,292.50 L59.10,292.50 L59.60,292.50 L60.10,292.50 L60.60,292.49 L61.10,292.48 L61.60,292.46 L62.10,292.42 L62.60,292.34 L63.10,292.18 L63.60,291.91 L64.10,291.42 L64.60,290.60 L65.10,289.24 L65.60,287.09 L66.10,283.82 L66.60,279.07 L67.10,272.53 L67.60,264.13 L68.10,254.20 L68.60,243.94 L69.10,236.12 L69.60,241.67 L70.10,253.79 L70.60,265.59 L71.10,275.10 L71.60,281.93 L72.10,286.42 L72.60,289.17 L73.10,290.76 L73.60,291.63 L74.10,292.08 L74.60,292.31 L75.10,292.41 L75.60,292.46 L76.10,292.48 L76.60,292.49 L77.10,292.50 L77.60,292.50 L78.10,292.50 L78.60,292.50 L79.10,292.50 L79.60,292.50 L80.10,292.50 L80.60,292.50 L81.10,292.50 L81.60,292.50 L82.10,292.50 L82.60,292.50 L83.10,292.50 L83.60,292.50 L84.10,292.50 L84.60,292.50 L85.10,292.50 L85.60,292.50 L86.10,292.50 L86.60,292.50 L87.10,292.50 L87.60,292.50 L88.10,292.50 L88.60,292.50 L89.10,292.50 L89.60,292.50 L90.10,292.50 L90.60,292.50 L91.10,292.50 L91.60,292.50 L92.10,292.50 L92.60,292.50 L93.10,292.50 L93.60,292.50 L94.10,292.50 L94.60,292.50 L95.10,292.50 L95.60,292.50 L96.10,292.50 L96.60,292.50 L97.10,292.50 L97.60,292.50 L98.10,292.50 L98.30,292.50 Z" fill="#aab6d2" fill-opacity="0.85" stroke="#344a80" stroke-width="1.2" stroke-linejoin="round"/>
<path d="M39.10,292.50 L39.10,292.50 L39.60,292.50 L40.10,292.50 L40.60,292.50 L41.10,292.50 L41.60,292.50 L42.10,292.50 L42.60,292.50 L43.10,292.50 L43.60,292.50 L44.10,292.50 L44.60,292.50 L45.10,292.50 L45.60,292.50 L46.10,292.50 L46.60,292.50 L47.10,292.50 L47.60,292.50 L48.10,292.50 L48.60,292.50 L49.10,292.50 L49.60,292.50 L50.10,292.50 L50.60,292.50 L51.10,292.50 L51.60,292.50 L52.10,292.50 L52.60,292.50 L53.10,292.50 L53.60,292.50 L54.10,292.50 L54.60,292.50 L55.10,292.50 L55.60,292.50 L56.10,292.50 L56.60,292.50 L57.10,292.50 L57.60,292.50 L58.10,292.50 L58.60,292.50 L59.10,292.50 L59.60,292.50 L60.10,292.50 L60.60,292.50 L61.10,292.50 L61.60,292.50 L62.10,292.50 L62.60,292.50 L63.10,292.50 L63.60,292.50 L64.10,292.49 L64.60,292.48 L65.10,292.46 L65.60,292.41 L66.10,292.31 L66.60,292.08 L67.10,291.63 L67.60,290.76 L68.10,289.17 L68.60,286.42 L69.10,281.93 L69.60,275.10 L70.10,265.59 L70.60,253.79 L71.10,241.67 L71.60,236.07 L72.10,243.33 L72.60,253.00 L73.10,262.54 L73.60,270.83 L74.10,277.46 L74.60,282.44 L75.10,286.00 L75.60,288.43 L76.10,290.02 L76.60,291.03 L77.10,291.66 L77.60,292.03 L78.10,292.24 L78.60,292.36 L79.10,292.43 L79.60,292.46 L80.10,292.48 L80.60,292.49 L81.10,292.50 L81.60,292.50 L82.10,292.50 L82.60,292.50 L83.10,292.50 L83.60,292.50 L84.10,292.50 L84.60,292.50 L85.10,292.50 L85.60,292.50 L86.10,292.50 L86.60,292.50 L87.10,292.50 L87.60,292.50 L88.10,292.50 L88.60,292.50 L89.10,292.50 L89.60,292.50 L90.10,292.50 L90.60,292.50 L91.10,292.50 L91.60,292.50 L92.10,292.50 L92.60,292.50 L93.10,292.50 L93.60,292.50 L94.10,292.50 L94.60,292.50 L95.10,292.50 L95.60,292.50 L96.10,292.50 L96.60,292.50 L97.10,292.50 L97.60,292.50 L98.10,292.50 L98.30,292.50 Z" fill="#e096ac" fill-opacity="0.85" stroke="#981a46" stroke-width="1.2" stroke-linejoin="round"/>
<rect x="38.6" y="230" width="60.199999999999996" height="62.5" fill="none" stroke="#111" stroke-width="1.3"/>
<line x1="38.6" y1="292.5" x2="98.8" y2="292.5" stroke="#7a1838" stroke-width="1.2"/>
<text x="134.2" y="224" font-size="7.6" text-anchor="middle" font-weight="normal" fill="#111" color="#111">Humice mCD45<tspan font-size="5" dy="-3">+</tspan></text>
<line x1="101.60000000000001" y1="292.3" x2="104.2" y2="292.3" stroke="#1a1a1a" stroke-width="0.7"/>
<line x1="102.4" y1="289.3096" x2="104.2" y2="289.3096" stroke="#1a1a1a" stroke-width="0.7"/>
<line x1="102.4" y1="286.3192" x2="104.2" y2="286.3192" stroke="#1a1a1a" stroke-width="0.7"/>
<line x1="102.4" y1="283.3288" x2="104.2" y2="283.3288" stroke="#1a1a1a" stroke-width="0.7"/>
<line x1="102.4" y1="280.33840000000004" x2="104.2" y2="280.33840000000004" stroke="#1a1a1a" stroke-width="0.7"/>
<line x1="101.60000000000001" y1="277.348" x2="104.2" y2="277.348" stroke="#1a1a1a" stroke-width="0.7"/>
<line x1="102.4" y1="274.3576" x2="104.2" y2="274.3576" stroke="#1a1a1a" stroke-width="0.7"/>
<line x1="102.4" y1="271.3672" x2="104.2" y2="271.3672" stroke="#1a1a1a" stroke-width="0.7"/>
<line x1="102.4" y1="268.3768" x2="104.2" y2="268.3768" stroke="#1a1a1a" stroke-width="0.7"/>
<line x1="102.4" y1="265.3864" x2="104.2" y2="265.3864" stroke="#1a1a1a" stroke-width="0.7"/>
<line x1="101.60000000000001" y1="262.396" x2="104.2" y2="262.396" stroke="#1a1a1a" stroke-width="0.7"/>
<line x1="102.4" y1="259.4056" x2="104.2" y2="259.4056" stroke="#1a1a1a" stroke-width="0.7"/>
<line x1="102.4" y1="256.4152" x2="104.2" y2="256.4152" stroke="#1a1a1a" stroke-width="0.7"/>
<line x1="102.4" y1="253.4248" x2="104.2" y2="253.4248" stroke="#1a1a1a" stroke-width="0.7"/>
<line x1="102.4" y1="250.4344" x2="104.2" y2="250.4344" stroke="#1a1a1a" stroke-width="0.7"/>
<line x1="101.60000000000001" y1="247.44400000000002" x2="104.2" y2="247.44400000000002" stroke="#1a1a1a" stroke-width="0.7"/>
<line x1="102.4" y1="244.4536" x2="104.2" y2="244.4536" stroke="#1a1a1a" stroke-width="0.7"/>
<line x1="102.4" y1="241.4632" x2="104.2" y2="241.4632" stroke="#1a1a1a" stroke-width="0.7"/>
<line x1="102.4" y1="238.4728" x2="104.2" y2="238.4728" stroke="#1a1a1a" stroke-width="0.7"/>
<line x1="102.4" y1="235.48239999999998" x2="104.2" y2="235.48239999999998" stroke="#1a1a1a" stroke-width="0.7"/>
<line x1="101.60000000000001" y1="232.49200000000002" x2="104.2" y2="232.49200000000002" stroke="#1a1a1a" stroke-width="0.7"/>
<line x1="107.2" y1="292.3" x2="107.2" y2="295.1" stroke="#1a1a1a" stroke-width="0.8"/>
<line x1="110.73383038388152" y1="292.3" x2="110.73383038388152" y2="294.3" stroke="#1a1a1a" stroke-width="0.8"/>
<line x1="112.80098864236126" y1="292.3" x2="112.80098864236126" y2="294.3" stroke="#1a1a1a" stroke-width="0.8"/>
<line x1="114.26766076776303" y1="292.3" x2="114.26766076776303" y2="294.3" stroke="#1a1a1a" stroke-width="0.8"/>
<line x1="115.40530005090109" y1="292.3" x2="115.40530005090109" y2="294.3" stroke="#1a1a1a" stroke-width="0.8"/>
<line x1="116.33481902624277" y1="292.3" x2="116.33481902624277" y2="294.3" stroke="#1a1a1a" stroke-width="0.8"/>
<line x1="117.1207161219065" y1="292.3" x2="117.1207161219065" y2="294.3" stroke="#1a1a1a" stroke-width="0.8"/>
<line x1="117.80149115164456" y1="292.3" x2="117.80149115164456" y2="294.3" stroke="#1a1a1a" stroke-width="0.8"/>
<line x1="118.4019772847225" y1="292.3" x2="118.4019772847225" y2="294.3" stroke="#1a1a1a" stroke-width="0.8"/>
<line x1="118.93913043478261" y1="292.3" x2="118.93913043478261" y2="295.1" stroke="#1a1a1a" stroke-width="0.8"/>
<line x1="122.47296081866413" y1="292.3" x2="122.47296081866413" y2="294.3" stroke="#1a1a1a" stroke-width="0.8"/>
<line x1="124.54011907714387" y1="292.3" x2="124.54011907714387" y2="294.3" stroke="#1a1a1a" stroke-width="0.8"/>
<line x1="126.00679120254564" y1="292.3" x2="126.00679120254564" y2="294.3" stroke="#1a1a1a" stroke-width="0.8"/>
<line x1="127.1444304856837" y1="292.3" x2="127.1444304856837" y2="294.3" stroke="#1a1a1a" stroke-width="0.8"/>
<line x1="128.0739494610254" y1="292.3" x2="128.0739494610254" y2="294.3" stroke="#1a1a1a" stroke-width="0.8"/>
<line x1="128.8598465566891" y1="292.3" x2="128.8598465566891" y2="294.3" stroke="#1a1a1a" stroke-width="0.8"/>
<line x1="129.54062158642716" y1="292.3" x2="129.54062158642716" y2="294.3" stroke="#1a1a1a" stroke-width="0.8"/>
<line x1="130.14110771950513" y1="292.3" x2="130.14110771950513" y2="294.3" stroke="#1a1a1a" stroke-width="0.8"/>
<line x1="130.6782608695652" y1="292.3" x2="130.6782608695652" y2="295.1" stroke="#1a1a1a" stroke-width="0.8"/>
<line x1="134.21209125344672" y1="292.3" x2="134.21209125344672" y2="294.3" stroke="#1a1a1a" stroke-width="0.8"/>
<line x1="136.27924951192645" y1="292.3" x2="136.27924951192645" y2="294.3" stroke="#1a1a1a" stroke-width="0.8"/>
<line x1="137.74592163732825" y1="292.3" x2="137.74592163732825" y2="294.3" stroke="#1a1a1a" stroke-width="0.8"/>
<line x1="138.8835609204663" y1="292.3" x2="138.8835609204663" y2="294.3" stroke="#1a1a1a" stroke-width="0.8"/>
<line x1="139.813079895808" y1="292.3" x2="139.813079895808" y2="294.3" stroke="#1a1a1a" stroke-width="0.8"/>
<line x1="140.5989769914717" y1="292.3" x2="140.5989769914717" y2="294.3" stroke="#1a1a1a" stroke-width="0.8"/>
<line x1="141.27975202120976" y1="292.3" x2="141.27975202120976" y2="294.3" stroke="#1a1a1a" stroke-width="0.8"/>
<line x1="141.88023815428772" y1="292.3" x2="141.88023815428772" y2="294.3" stroke="#1a1a1a" stroke-width="0.8"/>
<line x1="142.4173913043478" y1="292.3" x2="142.4173913043478" y2="295.1" stroke="#1a1a1a" stroke-width="0.8"/>
<line x1="145.9512216882293" y1="292.3" x2="145.9512216882293" y2="294.3" stroke="#1a1a1a" stroke-width="0.8"/>
<line x1="148.01837994670905" y1="292.3" x2="148.01837994670905" y2="294.3" stroke="#1a1a1a" stroke-width="0.8"/>
<line x1="149.48505207211085" y1="292.3" x2="149.48505207211085" y2="294.3" stroke="#1a1a1a" stroke-width="0.8"/>
<line x1="150.6226913552489" y1="292.3" x2="150.6226913552489" y2="294.3" stroke="#1a1a1a" stroke-width="0.8"/>
<line x1="151.55221033059058" y1="292.3" x2="151.55221033059058" y2="294.3" stroke="#1a1a1a" stroke-width="0.8"/>
<line x1="152.33810742625428" y1="292.3" x2="152.33810742625428" y2="294.3" stroke="#1a1a1a" stroke-width="0.8"/>
<line x1="153.01888245599235" y1="292.3" x2="153.01888245599235" y2="294.3" stroke="#1a1a1a" stroke-width="0.8"/>
<line x1="153.61936858907032" y1="292.3" x2="153.61936858907032" y2="294.3" stroke="#1a1a1a" stroke-width="0.8"/>
<line x1="154.15652173913043" y1="292.3" x2="154.15652173913043" y2="295.1" stroke="#1a1a1a" stroke-width="0.8"/>
<line x1="157.69035212301193" y1="292.3" x2="157.69035212301193" y2="294.3" stroke="#1a1a1a" stroke-width="0.8"/>
<line x1="159.75751038149167" y1="292.3" x2="159.75751038149167" y2="294.3" stroke="#1a1a1a" stroke-width="0.8"/>
<line x1="161.22418250689347" y1="292.3" x2="161.22418250689347" y2="294.3" stroke="#1a1a1a" stroke-width="0.8"/>
<line x1="162.3618217900315" y1="292.3" x2="162.3618217900315" y2="294.3" stroke="#1a1a1a" stroke-width="0.8"/>
<rect x="116.2" y="293.1" width="2.5" height="1.8000000000000114" fill="#111"/>
<path d="M104.70,292.30 L104.70,292.30 L105.20,292.30 L105.70,292.30 L106.20,292.30 L106.70,292.30 L107.20,292.30 L107.70,292.30 L108.20,292.30 L108.70,292.30 L109.20,292.30 L109.70,292.30 L110.20,292.30 L110.70,292.30 L111.20,292.30 L111.70,292.30 L112.20,292.30 L112.70,292.30 L113.20,292.30 L113.70,292.30 L114.20,292.30 L114.70,292.30 L115.20,292.30 L115.70,292.30 L116.20,292.30 L116.70,292.30 L117.20,292.30 L117.70,292.30 L118.20,292.30 L118.70,292.30 L119.20,292.30 L119.70,292.30 L120.20,292.30 L120.70,292.29 L121.20,292.29 L121.70,292.28 L122.20,292.27 L122.70,292.25 L123.20,292.23 L123.70,292.18 L124.20,292.12 L124.70,292.02 L125.20,291.87 L125.70,291.66 L126.20,291.34 L126.70,290.89 L127.20,290.25 L127.70,289.37 L128.20,288.15 L128.70,286.53 L129.20,284.38 L129.70,281.60 L130.20,278.10 L130.70,273.79 L131.20,268.64 L131.70,262.68 L132.20,256.07 L132.70,249.14 L133.20,242.46 L133.70,237.03 L134.20,237.36 L134.70,247.50 L135.20,259.11 L135.70,269.40 L136.20,277.41 L136.70,283.11 L137.20,286.89 L137.70,289.25 L138.20,290.65 L138.70,291.44 L139.20,291.87 L139.70,292.09 L140.20,292.20 L140.70,292.25 L141.20,292.28 L141.70,292.29 L142.20,292.30 L142.70,292.30 L143.20,292.30 L143.70,292.30 L144.20,292.30 L144.70,292.30 L145.20,292.30 L145.70,292.30 L146.20,292.30 L146.70,292.30 L147.20,292.30 L147.70,292.30 L148.20,292.30 L148.70,292.30 L149.20,292.30 L149.70,292.30 L150.20,292.30 L150.70,292.30 L151.20,292.30 L151.70,292.30 L152.20,292.30 L152.70,292.30 L153.20,292.30 L153.70,292.30 L154.20,292.30 L154.70,292.30 L155.20,292.30 L155.70,292.30 L156.20,292.30 L156.70,292.30 L157.20,292.30 L157.70,292.30 L158.20,292.30 L158.70,292.30 L159.20,292.30 L159.70,292.30 L160.20,292.30 L160.70,292.30 L161.20,292.30 L161.70,292.30 L162.20,292.30 L162.70,292.30 L163.20,292.30 L163.70,292.30 L163.70,292.30 Z" fill="#aab6d2" fill-opacity="0.85" stroke="#344a80" stroke-width="1.2" stroke-linejoin="round"/>
<path d="M104.70,292.30 L104.70,292.30 L105.20,292.30 L105.70,292.30 L106.20,292.30 L106.70,292.30 L107.20,292.30 L107.70,292.30 L108.20,292.30 L108.70,292.30 L109.20,292.30 L109.70,292.30 L110.20,292.30 L110.70,292.30 L111.20,292.30 L111.70,292.30 L112.20,292.30 L112.70,292.30 L113.20,292.30 L113.70,292.30 L114.20,292.30 L114.70,292.30 L115.20,292.30 L115.70,292.30 L116.20,292.30 L116.70,292.30 L117.20,292.30 L117.70,292.30 L118.20,292.30 L118.70,292.30 L119.20,292.30 L119.70,292.30 L120.20,292.30 L120.70,292.30 L121.20,292.30 L121.70,292.30 L122.20,292.30 L122.70,292.30 L123.20,292.30 L123.70,292.30 L124.20,292.30 L124.70,292.30 L125.20,292.30 L125.70,292.30 L126.20,292.30 L126.70,292.30 L127.20,292.30 L127.70,292.30 L128.20,292.30 L128.70,292.30 L129.20,292.29 L129.70,292.28 L130.20,292.27 L130.70,292.25 L131.20,292.20 L131.70,292.13 L132.20,292.00 L132.70,291.79 L133.20,291.44 L133.70,290.89 L134.20,290.03 L134.70,288.73 L135.20,286.83 L135.70,284.12 L136.20,280.39 L136.70,275.47 L137.20,269.25 L137.70,261.83 L138.20,253.64 L138.70,245.63 L139.20,239.76 L139.70,243.10 L140.20,251.08 L140.70,259.75 L141.20,267.78 L141.70,274.56 L142.20,279.91 L142.70,283.93 L143.20,286.81 L143.70,288.80 L144.20,290.12 L144.70,290.98 L145.20,291.52 L145.70,291.85 L146.20,292.04 L146.70,292.16 L147.20,292.22 L147.70,292.26 L148.20,292.28 L148.70,292.29 L149.20,292.29 L149.70,292.30 L150.20,292.30 L150.70,292.30 L151.20,292.30 L151.70,292.30 L152.20,292.30 L152.70,292.30 L153.20,292.30 L153.70,292.30 L154.20,292.30 L154.70,292.30 L155.20,292.30 L155.70,292.30 L156.20,292.30 L156.70,292.30 L157.20,292.30 L157.70,292.30 L158.20,292.30 L158.70,292.30 L159.20,292.30 L159.70,292.30 L160.20,292.30 L160.70,292.30 L161.20,292.30 L161.70,292.30 L162.20,292.30 L162.70,292.30 L163.20,292.30 L163.70,292.30 L163.70,292.30 Z" fill="#e096ac" fill-opacity="0.85" stroke="#981a46" stroke-width="1.2" stroke-linejoin="round"/>
<rect x="104.2" y="230" width="59.999999999999986" height="62.30000000000001" fill="none" stroke="#111" stroke-width="1.3"/>
<line x1="104.2" y1="292.3" x2="164.2" y2="292.3" stroke="#7a1838" stroke-width="1.2"/>
<text x="199.15" y="224" font-size="7.6" text-anchor="middle" font-weight="normal" fill="#111" color="#111">Humice hCD45<tspan font-size="5" dy="-3">+</tspan></text>
<line x1="166.9" y1="292.3" x2="169.5" y2="292.3" stroke="#1a1a1a" stroke-width="0.7"/>
<line x1="167.7" y1="289.3096" x2="169.5" y2="289.3096" stroke="#1a1a1a" stroke-width="0.7"/>
<line x1="167.7" y1="286.3192" x2="169.5" y2="286.3192" stroke="#1a1a1a" stroke-width="0.7"/>
<line x1="167.7" y1="283.3288" x2="169.5" y2="283.3288" stroke="#1a1a1a" stroke-width="0.7"/>
<line x1="167.7" y1="280.33840000000004" x2="169.5" y2="280.33840000000004" stroke="#1a1a1a" stroke-width="0.7"/>
<line x1="166.9" y1="277.348" x2="169.5" y2="277.348" stroke="#1a1a1a" stroke-width="0.7"/>
<line x1="167.7" y1="274.3576" x2="169.5" y2="274.3576" stroke="#1a1a1a" stroke-width="0.7"/>
<line x1="167.7" y1="271.3672" x2="169.5" y2="271.3672" stroke="#1a1a1a" stroke-width="0.7"/>
<line x1="167.7" y1="268.3768" x2="169.5" y2="268.3768" stroke="#1a1a1a" stroke-width="0.7"/>
<line x1="167.7" y1="265.3864" x2="169.5" y2="265.3864" stroke="#1a1a1a" stroke-width="0.7"/>
<line x1="166.9" y1="262.396" x2="169.5" y2="262.396" stroke="#1a1a1a" stroke-width="0.7"/>
<line x1="167.7" y1="259.4056" x2="169.5" y2="259.4056" stroke="#1a1a1a" stroke-width="0.7"/>
<line x1="167.7" y1="256.4152" x2="169.5" y2="256.4152" stroke="#1a1a1a" stroke-width="0.7"/>
<line x1="167.7" y1="253.4248" x2="169.5" y2="253.4248" stroke="#1a1a1a" stroke-width="0.7"/>
<line x1="167.7" y1="250.4344" x2="169.5" y2="250.4344" stroke="#1a1a1a" stroke-width="0.7"/>
<line x1="166.9" y1="247.44400000000002" x2="169.5" y2="247.44400000000002" stroke="#1a1a1a" stroke-width="0.7"/>
<line x1="167.7" y1="244.4536" x2="169.5" y2="244.4536" stroke="#1a1a1a" stroke-width="0.7"/>
<line x1="167.7" y1="241.4632" x2="169.5" y2="241.4632" stroke="#1a1a1a" stroke-width="0.7"/>
<line x1="167.7" y1="238.4728" x2="169.5" y2="238.4728" stroke="#1a1a1a" stroke-width="0.7"/>
<line x1="167.7" y1="235.48239999999998" x2="169.5" y2="235.48239999999998" stroke="#1a1a1a" stroke-width="0.7"/>
<line x1="166.9" y1="232.49200000000002" x2="169.5" y2="232.49200000000002" stroke="#1a1a1a" stroke-width="0.7"/>
<line x1="172.5" y1="292.3" x2="172.5" y2="295.1" stroke="#1a1a1a" stroke-width="0.8"/>
<line x1="175.98802147149786" y1="292.3" x2="175.98802147149786" y2="294.3" stroke="#1a1a1a" stroke-width="0.8"/>
<line x1="178.02838323403435" y1="292.3" x2="178.02838323403435" y2="294.3" stroke="#1a1a1a" stroke-width="0.8"/>
<line x1="179.47604294299575" y1="292.3" x2="179.47604294299575" y2="294.3" stroke="#1a1a1a" stroke-width="0.8"/>
<line x1="180.59893505024127" y1="292.3" x2="180.59893505024127" y2="294.3" stroke="#1a1a1a" stroke-width="0.8"/>
<line x1="181.5164047055322" y1="292.3" x2="181.5164047055322" y2="294.3" stroke="#1a1a1a" stroke-width="0.8"/>
<line x1="182.29211424625214" y1="292.3" x2="182.29211424625214" y2="294.3" stroke="#1a1a1a" stroke-width="0.8"/>
<line x1="182.9640644144936" y1="292.3" x2="182.9640644144936" y2="294.3" stroke="#1a1a1a" stroke-width="0.8"/>
<line x1="183.5567664680687" y1="292.3" x2="183.5567664680687" y2="294.3" stroke="#1a1a1a" stroke-width="0.8"/>
<line x1="184.08695652173913" y1="292.3" x2="184.08695652173913" y2="295.1" stroke="#1a1a1a" stroke-width="0.8"/>
<line x1="187.57497799323698" y1="292.3" x2="187.57497799323698" y2="294.3" stroke="#1a1a1a" stroke-width="0.8"/>
<line x1="189.61533975577348" y1="292.3" x2="189.61533975577348" y2="294.3" stroke="#1a1a1a" stroke-width="0.8"/>
<line x1="191.06299946473487" y1="292.3" x2="191.06299946473487" y2="294.3" stroke="#1a1a1a" stroke-width="0.8"/>
<line x1="192.1858915719804" y1="292.3" x2="192.1858915719804" y2="294.3" stroke="#1a1a1a" stroke-width="0.8"/>
<line x1="193.10336122727134" y1="292.3" x2="193.10336122727134" y2="294.3" stroke="#1a1a1a" stroke-width="0.8"/>
<line x1="193.87907076799127" y1="292.3" x2="193.87907076799127" y2="294.3" stroke="#1a1a1a" stroke-width="0.8"/>
<line x1="194.55102093623273" y1="292.3" x2="194.55102093623273" y2="294.3" stroke="#1a1a1a" stroke-width="0.8"/>
<line x1="195.14372298980783" y1="292.3" x2="195.14372298980783" y2="294.3" stroke="#1a1a1a" stroke-width="0.8"/>
<line x1="195.67391304347828" y1="292.3" x2="195.67391304347828" y2="295.1" stroke="#1a1a1a" stroke-width="0.8"/>
<line x1="199.16193451497614" y1="292.3" x2="199.16193451497614" y2="294.3" stroke="#1a1a1a" stroke-width="0.8"/>
<line x1="201.20229627751263" y1="292.3" x2="201.20229627751263" y2="294.3" stroke="#1a1a1a" stroke-width="0.8"/>
<line x1="202.64995598647403" y1="292.3" x2="202.64995598647403" y2="294.3" stroke="#1a1a1a" stroke-width="0.8"/>
<line x1="203.77284809371955" y1="292.3" x2="203.77284809371955" y2="294.3" stroke="#1a1a1a" stroke-width="0.8"/>
<line x1="204.6903177490105" y1="292.3" x2="204.6903177490105" y2="294.3" stroke="#1a1a1a" stroke-width="0.8"/>
<line x1="205.46602728973042" y1="292.3" x2="205.46602728973042" y2="294.3" stroke="#1a1a1a" stroke-width="0.8"/>
<line x1="206.13797745797189" y1="292.3" x2="206.13797745797189" y2="294.3" stroke="#1a1a1a" stroke-width="0.8"/>
<line x1="206.73067951154698" y1="292.3" x2="206.73067951154698" y2="294.3" stroke="#1a1a1a" stroke-width="0.8"/>
<line x1="207.2608695652174" y1="292.3" x2="207.2608695652174" y2="295.1" stroke="#1a1a1a" stroke-width="0.8"/>
<line x1="210.74889103671526" y1="292.3" x2="210.74889103671526" y2="294.3" stroke="#1a1a1a" stroke-width="0.8"/>
<line x1="212.78925279925176" y1="292.3" x2="212.78925279925176" y2="294.3" stroke="#1a1a1a" stroke-width="0.8"/>
<line x1="214.23691250821315" y1="292.3" x2="214.23691250821315" y2="294.3" stroke="#1a1a1a" stroke-width="0.8"/>
<line x1="215.35980461545867" y1="292.3" x2="215.35980461545867" y2="294.3" stroke="#1a1a1a" stroke-width="0.8"/>
<line x1="216.27727427074961" y1="292.3" x2="216.27727427074961" y2="294.3" stroke="#1a1a1a" stroke-width="0.8"/>
<line x1="217.05298381146955" y1="292.3" x2="217.05298381146955" y2="294.3" stroke="#1a1a1a" stroke-width="0.8"/>
<line x1="217.724933979711" y1="292.3" x2="217.724933979711" y2="294.3" stroke="#1a1a1a" stroke-width="0.8"/>
<line x1="218.3176360332861" y1="292.3" x2="218.3176360332861" y2="294.3" stroke="#1a1a1a" stroke-width="0.8"/>
<line x1="218.84782608695653" y1="292.3" x2="218.84782608695653" y2="295.1" stroke="#1a1a1a" stroke-width="0.8"/>
<line x1="222.3358475584544" y1="292.3" x2="222.3358475584544" y2="294.3" stroke="#1a1a1a" stroke-width="0.8"/>
<line x1="224.37620932099088" y1="292.3" x2="224.37620932099088" y2="294.3" stroke="#1a1a1a" stroke-width="0.8"/>
<line x1="225.82386902995228" y1="292.3" x2="225.82386902995228" y2="294.3" stroke="#1a1a1a" stroke-width="0.8"/>
<line x1="226.9467611371978" y1="292.3" x2="226.9467611371978" y2="294.3" stroke="#1a1a1a" stroke-width="0.8"/>
<rect x="181.5" y="293.1" width="2.5" height="1.8000000000000114" fill="#111"/>
<path d="M170.00,292.30 L170.00,292.30 L170.50,292.30 L171.00,292.30 L171.50,292.30 L172.00,292.30 L172.50,292.30 L173.00,292.30 L173.50,292.30 L174.00,292.30 L174.50,292.30 L175.00,292.30 L175.50,292.30 L176.00,292.30 L176.50,292.29 L177.00,292.29 L177.50,292.28 L178.00,292.27 L178.50,292.25 L179.00,292.21 L179.50,292.16 L180.00,292.06 L180.50,291.85 L181.00,291.32 L181.50,289.94 L182.00,286.51 L182.50,278.94 L183.00,265.06 L183.50,246.33 L184.00,239.79 L184.50,247.87 L185.00,257.09 L185.50,265.02 L186.00,270.88 L186.50,274.79 L187.00,277.46 L187.50,280.01 L188.00,282.02 L188.50,283.61 L189.00,284.93 L189.50,286.06 L190.00,287.05 L190.50,287.91 L191.00,288.67 L191.50,289.32 L192.00,289.88 L192.50,290.36 L193.00,290.76 L193.50,291.08 L194.00,291.35 L194.50,291.57 L195.00,291.74 L195.50,291.87 L196.00,291.98 L196.50,292.06 L197.00,292.12 L197.50,292.17 L198.00,292.20 L198.50,292.23 L199.00,292.25 L199.50,292.26 L200.00,292.27 L200.50,292.28 L201.00,292.29 L201.50,292.29 L202.00,292.29 L202.50,292.30 L203.00,292.30 L203.50,292.30 L204.00,292.30 L204.50,292.30 L205.00,292.30 L205.50,292.30 L206.00,292.30 L206.50,292.30 L207.00,292.30 L207.50,292.30 L208.00,292.30 L208.50,292.30 L209.00,292.30 L209.50,292.30 L210.00,292.30 L210.50,292.30 L211.00,292.30 L211.50,292.30 L212.00,292.30 L212.50,292.30 L213.00,292.30 L213.50,292.30 L214.00,292.30 L214.50,292.30 L215.00,292.30 L215.50,292.30 L216.00,292.30 L216.50,292.30 L217.00,292.30 L217.50,292.30 L218.00,292.30 L218.50,292.30 L219.00,292.30 L219.50,292.30 L220.00,292.30 L220.50,292.30 L221.00,292.30 L221.50,292.30 L222.00,292.30 L222.50,292.30 L223.00,292.30 L223.50,292.30 L224.00,292.30 L224.50,292.30 L225.00,292.30 L225.50,292.30 L226.00,292.30 L226.50,292.30 L227.00,292.30 L227.50,292.30 L228.00,292.30 L228.30,292.30 Z" fill="#aab6d2" fill-opacity="0.85" stroke="#344a80" stroke-width="1.2" stroke-linejoin="round"/>
<path d="M170.00,292.30 L170.00,292.30 L170.50,292.30 L171.00,292.30 L171.50,292.30 L172.00,292.30 L172.50,292.30 L173.00,292.30 L173.50,292.30 L174.00,292.30 L174.50,292.30 L175.00,292.30 L175.50,292.30 L176.00,292.30 L176.50,292.30 L177.00,292.30 L177.50,292.30 L178.00,292.30 L178.50,292.30 L179.00,292.30 L179.50,292.30 L180.00,292.30 L180.50,292.30 L181.00,292.30 L181.50,292.30 L182.00,292.30 L182.50,292.30 L183.00,292.30 L183.50,292.30 L184.00,292.30 L184.50,292.30 L185.00,292.30 L185.50,292.30 L186.00,292.30 L186.50,292.30 L187.00,292.30 L187.50,292.30 L188.00,292.29 L188.50,292.28 L189.00,292.26 L189.50,292.22 L190.00,292.12 L190.50,291.92 L191.00,291.54 L191.50,290.80 L192.00,289.45 L192.50,287.10 L193.00,283.23 L193.50,277.29 L194.00,268.84 L194.50,258.03 L195.00,246.24 L195.50,237.74 L196.00,242.51 L196.50,250.16 L197.00,257.51 L197.50,263.28 L198.00,267.09 L198.50,269.08 L199.00,269.71 L199.50,269.71 L200.00,271.18 L200.50,275.86 L201.00,280.62 L201.50,284.44 L202.00,286.85 L202.50,287.40 L203.00,285.54 L203.50,281.57 L204.00,281.07 L204.50,286.03 L205.00,289.61 L205.50,291.35 L206.00,292.01 L206.50,292.22 L207.00,292.28 L207.50,292.30 L208.00,292.30 L208.50,292.30 L209.00,292.30 L209.50,292.30 L210.00,292.30 L210.50,292.30 L211.00,292.30 L211.50,292.30 L212.00,292.30 L212.50,292.30 L213.00,292.30 L213.50,292.30 L214.00,292.30 L214.50,292.30 L215.00,292.30 L215.50,292.30 L216.00,292.30 L216.50,292.30 L217.00,292.30 L217.50,292.30 L218.00,292.30 L218.50,292.30 L219.00,292.30 L219.50,292.30 L220.00,292.30 L220.50,292.30 L221.00,292.30 L221.50,292.30 L222.00,292.30 L222.50,292.30 L223.00,292.30 L223.50,292.30 L224.00,292.30 L224.50,292.30 L225.00,292.30 L225.50,292.30 L226.00,292.30 L226.50,292.30 L227.00,292.30 L227.50,292.30 L228.00,292.30 L228.30,292.30 Z" fill="#e096ac" fill-opacity="0.85" stroke="#981a46" stroke-width="1.2" stroke-linejoin="round"/>
<rect x="169.5" y="230" width="59.30000000000001" height="62.30000000000001" fill="none" stroke="#111" stroke-width="1.3"/>
<line x1="169.5" y1="292.3" x2="228.8" y2="292.3" stroke="#7a1838" stroke-width="1.2"/>
<line x1="32.4" y1="299.3" x2="32.4" y2="256" stroke="#111" stroke-width="1"/>
<path d="M30.4,257 L32.4,252 L34.4,257 Z" fill="#111"/>
<line x1="32.4" y1="299.3" x2="227.8" y2="299.3" stroke="#111" stroke-width="1"/>
<path d="M226.8,297.3 L231.8,299.3 L226.8,301.3 Z" fill="#111"/>
<text x="26.9" y="278.15" font-size="8.6" text-anchor="middle" font-weight="normal" fill="#111" color="#111" transform="rotate(-90 26.9 278.15)">Cell count</text>
<text x="37.8" y="310.5" font-size="8.9" text-anchor="start" font-weight="normal" fill="#111" color="#111">Phospho-MK2</text>
<line x1="235.5" y1="232.2" x2="245" y2="232.2" stroke="#981a46" stroke-width="1.8"/>
<text x="248" y="234.6" font-size="7.6" text-anchor="start" font-weight="normal" fill="#111" color="#111">ZT7</text>
<line x1="235.5" y1="241.4" x2="245" y2="241.4" stroke="#344a80" stroke-width="1.8"/>
<text x="248" y="243.8" font-size="7.6" text-anchor="start" font-weight="normal" fill="#111" color="#111">ZT19</text>
<line x1="313.5" y1="27" x2="313.5" y2="119.3" stroke="#111" stroke-width="1.3"/>
<line x1="313.5" y1="119.3" x2="434" y2="119.3" stroke="#111" stroke-width="1.3"/>
<line x1="310.5" y1="30" x2="313.5" y2="30" stroke="#111" stroke-width="1.1"/>
<text x="306.3" y="32.5" font-size="7.3" text-anchor="end" font-weight="normal" fill="#111" color="#111">1800</text>
<line x1="310.5" y1="74.5" x2="313.5" y2="74.5" stroke="#111" stroke-width="1.1"/>
<text x="306.3" y="77.0" font-size="7.3" text-anchor="end" font-weight="normal" fill="#111" color="#111">900</text>
<line x1="310.5" y1="119.3" x2="313.5" y2="119.3" stroke="#111" stroke-width="1.1"/>
<text x="306.3" y="121.8" font-size="7.3" text-anchor="end" font-weight="normal" fill="#111" color="#111">0</text>
<line x1="312.0" y1="52.2" x2="313.5" y2="52.2" stroke="#111" stroke-width="0.8"/>
<line x1="312.0" y1="96.7" x2="313.5" y2="96.7" stroke="#111" stroke-width="0.8"/>
<rect x="317.8" y="80.4" width="15.599999999999966" height="38.89999999999999" fill="#c20a32"/>
<line x1="325.6" y1="61" x2="325.6" y2="80.4" stroke="#222" stroke-width="0.9"/>
<line x1="324.1" y1="61" x2="327.1" y2="61" stroke="#222" stroke-width="0.9"/>
<rect x="333.4" y="115.7" width="15.900000000000034" height="3.5999999999999943" fill="#2b4c88"/>
<line x1="341.35" y1="112" x2="341.35" y2="115.7" stroke="#222" stroke-width="0.9"/>
<line x1="339.85" y1="112" x2="342.85" y2="112" stroke="#222" stroke-width="0.9"/>
<rect x="357.3" y="76.3" width="15.899999999999977" height="43.0" fill="#c20a32"/>
<line x1="365.25" y1="61.5" x2="365.25" y2="76.3" stroke="#222" stroke-width="0.9"/>
<line x1="363.75" y1="61.5" x2="366.75" y2="61.5" stroke="#222" stroke-width="0.9"/>
<rect x="373.2" y="115.7" width="15.600000000000023" height="3.5999999999999943" fill="#2b4c88"/>
<line x1="381.0" y1="112.7" x2="381.0" y2="115.7" stroke="#222" stroke-width="0.9"/>
<line x1="379.5" y1="112.7" x2="382.5" y2="112.7" stroke="#222" stroke-width="0.9"/>
<rect x="397.5" y="108.7" width="15.5" height="10.599999999999994" fill="#c20a32"/>
<line x1="405.25" y1="105.4" x2="405.25" y2="108.7" stroke="#222" stroke-width="0.9"/>
<line x1="403.75" y1="105.4" x2="406.75" y2="105.4" stroke="#222" stroke-width="0.9"/>
<rect x="413" y="115.7" width="16" height="3.5999999999999943" fill="#2b4c88"/>
<line x1="421.0" y1="113.5" x2="421.0" y2="115.7" stroke="#222" stroke-width="0.9"/>
<line x1="419.5" y1="113.5" x2="422.5" y2="113.5" stroke="#222" stroke-width="0.9"/>
<line x1="319.4" y1="56.7" x2="343" y2="56.7" stroke="#111" stroke-width="1.1"/>
<text x="332.3" y="57.6" font-size="7" text-anchor="middle" font-weight="normal" fill="#111" color="#111" letter-spacing="2.2">**</text>
<line x1="361" y1="56.7" x2="385.6" y2="56.7" stroke="#111" stroke-width="1.1"/>
<text x="374.40000000000003" y="57.6" font-size="7" text-anchor="middle" font-weight="normal" fill="#111" color="#111" letter-spacing="2.2">**</text>
<line x1="400" y1="94.5" x2="423" y2="94.5" stroke="#111" stroke-width="1.1"/>
<text x="412.6" y="95.4" font-size="7" text-anchor="middle" font-weight="normal" fill="#111" color="#111" letter-spacing="2.2">**</text>
<line x1="333.4" y1="119.3" x2="333.4" y2="121.3" stroke="#111" stroke-width="0.8"/>
<line x1="373.2" y1="119.3" x2="373.2" y2="121.3" stroke="#111" stroke-width="0.8"/>
<line x1="413" y1="119.3" x2="413" y2="121.3" stroke="#111" stroke-width="0.8"/>
<rect x="316.7" y="27.2" width="12.300000000000011" height="6.900000000000002" fill="#c20a32"/>
<rect x="316.7" y="38.1" width="12.300000000000011" height="7.0" fill="#2b4c88"/>
<text x="332.1" y="33.5" font-size="7.6" text-anchor="start" font-weight="normal" fill="#111" color="#111">ZT7</text>
<text x="332.1" y="44.4" font-size="7.6" text-anchor="start" font-weight="normal" fill="#111" color="#111">ZT19</text>
<text x="337" y="128" font-size="8.3" text-anchor="end" font-weight="normal" fill="#111" color="#111" transform="rotate(-45 337 128)">NSG mCD45<tspan font-size="5" dy="-3">+</tspan></text>
<text x="377" y="128" font-size="8.3" text-anchor="end" font-weight="normal" fill="#111" color="#111" transform="rotate(-45 377 128)">Humice mCD45<tspan font-size="5" dy="-3">+</tspan></text>
<text x="415" y="128" font-size="8.3" text-anchor="end" font-weight="normal" fill="#111" color="#111" transform="rotate(-45 415 128)">Humice hCD45<tspan font-size="5" dy="-3">+</tspan></text>
<text x="283.3" y="73.4" font-size="8.5" text-anchor="middle" font-weight="normal" fill="#111" color="#111" transform="rotate(-90 283.3 73.4)">MFI</text>
<line x1="313.75" y1="207.4" x2="313.75" y2="292.5" stroke="#111" stroke-width="1.3"/>
<line x1="313.75" y1="292.5" x2="426" y2="292.5" stroke="#111" stroke-width="1.3"/>
<line x1="310.75" y1="210.4" x2="313.75" y2="210.4" stroke="#111" stroke-width="1.1"/>
<text x="306.55" y="212.9" font-size="7.3" text-anchor="end" font-weight="normal" fill="#111" color="#111">8000</text>
<line x1="310.75" y1="251.75" x2="313.75" y2="251.75" stroke="#111" stroke-width="1.1"/>
<text x="306.55" y="254.25" font-size="7.3" text-anchor="end" font-weight="normal" fill="#111" color="#111">4000</text>
<line x1="310.75" y1="292.5" x2="313.75" y2="292.5" stroke="#111" stroke-width="1.1"/>
<text x="306.55" y="295.0" font-size="7.3" text-anchor="end" font-weight="normal" fill="#111" color="#111">0</text>
<line x1="312.25" y1="231" x2="313.75" y2="231" stroke="#111" stroke-width="0.8"/>
<line x1="312.25" y1="272" x2="313.75" y2="272" stroke="#111" stroke-width="0.8"/>
<rect x="317.5" y="255.75" width="14.25" height="36.75" fill="#c20a32"/>
<line x1="324.625" y1="252.5" x2="324.625" y2="255.75" stroke="#222" stroke-width="0.9"/>
<line x1="323.125" y1="252.5" x2="326.125" y2="252.5" stroke="#222" stroke-width="0.9"/>
<rect x="331.75" y="265" width="14.5" height="27.5" fill="#2b4c88"/>
<line x1="339.0" y1="262" x2="339.0" y2="265" stroke="#222" stroke-width="0.9"/>
<line x1="337.5" y1="262" x2="340.5" y2="262" stroke="#222" stroke-width="0.9"/>
<rect x="353.75" y="244.5" width="14.25" height="48.0" fill="#c20a32"/>
<line x1="360.875" y1="242" x2="360.875" y2="244.5" stroke="#222" stroke-width="0.9"/>
<line x1="359.375" y1="242" x2="362.375" y2="242" stroke="#222" stroke-width="0.9"/>
<rect x="368" y="268.25" width="14.5" height="24.25" fill="#2b4c88"/>
<line x1="375.25" y1="265" x2="375.25" y2="268.25" stroke="#222" stroke-width="0.9"/>
<line x1="373.75" y1="265" x2="376.75" y2="265" stroke="#222" stroke-width="0.9"/>
<rect x="390.5" y="272" width="14.0" height="20.5" fill="#c20a32"/>
<line x1="397.5" y1="270" x2="397.5" y2="272" stroke="#222" stroke-width="0.9"/>
<line x1="396.0" y1="270" x2="399.0" y2="270" stroke="#222" stroke-width="0.9"/>
<rect x="404.5" y="289.25" width="15.0" height="3.25" fill="#2b4c88"/>
<line x1="412.0" y1="287.5" x2="412.0" y2="289.25" stroke="#222" stroke-width="0.9"/>
<line x1="410.5" y1="287.5" x2="413.5" y2="287.5" stroke="#222" stroke-width="0.9"/>
<line x1="319.5" y1="235.75" x2="343.75" y2="235.75" stroke="#111" stroke-width="1.1"/>
<text x="332.725" y="236.65" font-size="7" text-anchor="middle" font-weight="normal" fill="#111" color="#111" letter-spacing="2.2">*</text>
<line x1="355" y1="235.75" x2="379.5" y2="235.75" stroke="#111" stroke-width="1.1"/>
<text x="368.35" y="236.65" font-size="7" text-anchor="middle" font-weight="normal" fill="#111" color="#111" letter-spacing="2.2">**</text>
<line x1="394.5" y1="266.25" x2="418.75" y2="266.25" stroke="#111" stroke-width="1.1"/>
<text x="407.725" y="267.15" font-size="7" text-anchor="middle" font-weight="normal" fill="#111" color="#111" letter-spacing="2.2">**</text>
<line x1="331.75" y1="292.5" x2="331.75" y2="294.5" stroke="#111" stroke-width="0.8"/>
<line x1="368" y1="292.5" x2="368" y2="294.5" stroke="#111" stroke-width="0.8"/>
<line x1="404.5" y1="292.5" x2="404.5" y2="294.5" stroke="#111" stroke-width="0.8"/>
<rect x="316.3" y="208.1" width="12.699999999999989" height="6.900000000000006" fill="#c20a32"/>
<rect x="316.3" y="219" width="12.699999999999989" height="6.599999999999994" fill="#2b4c88"/>
<text x="332.1" y="214.4" font-size="7.6" text-anchor="start" font-weight="normal" fill="#111" color="#111">ZT7</text>
<text x="332.1" y="224.9" font-size="7.6" text-anchor="start" font-weight="normal" fill="#111" color="#111">ZT19</text>
<text x="335" y="302" font-size="8.3" text-anchor="end" font-weight="normal" fill="#111" color="#111" transform="rotate(-45 335 302)">NSG mCD45<tspan font-size="5" dy="-3">+</tspan></text>
<text x="372" y="302" font-size="8.3" text-anchor="end" font-weight="normal" fill="#111" color="#111" transform="rotate(-45 372 302)">Humice mCD45<tspan font-size="5" dy="-3">+</tspan></text>
<text x="407.5" y="302" font-size="8.3" text-anchor="end" font-weight="normal" fill="#111" color="#111" transform="rotate(-45 407.5 302)">Humice hCD45<tspan font-size="5" dy="-3">+</tspan></text>
<text x="283.3" y="250.6" font-size="8.5" text-anchor="middle" font-weight="normal" fill="#111" color="#111" transform="rotate(-90 283.3 250.6)">MFI</text>
<line x1="402.3" y1="399" x2="402.3" y2="497" stroke="#111" stroke-width="1.3"/>
<line x1="402.3" y1="497" x2="503.5" y2="497" stroke="#111" stroke-width="1.3"/>
<line x1="399.3" y1="402" x2="402.3" y2="402" stroke="#111" stroke-width="1.1"/>
<text x="395.1" y="404.5" font-size="7.3" text-anchor="end" font-weight="normal" fill="#111" color="#111">14000</text>
<line x1="399.3" y1="449.5" x2="402.3" y2="449.5" stroke="#111" stroke-width="1.1"/>
<text x="395.1" y="452.0" font-size="7.3" text-anchor="end" font-weight="normal" fill="#111" color="#111">7000</text>
<line x1="399.3" y1="497" x2="402.3" y2="497" stroke="#111" stroke-width="1.1"/>
<text x="395.1" y="499.5" font-size="7.3" text-anchor="end" font-weight="normal" fill="#111" color="#111">0</text>
<line x1="400.8" y1="426" x2="402.3" y2="426" stroke="#111" stroke-width="0.8"/>
<line x1="400.8" y1="473.5" x2="402.3" y2="473.5" stroke="#111" stroke-width="0.8"/>
<rect x="415" y="469.3" width="13" height="27.69999999999999" fill="#c20a32"/>
<line x1="421.5" y1="464.3" x2="421.5" y2="469.3" stroke="#222" stroke-width="0.9"/>
<line x1="420.0" y1="464.3" x2="423.0" y2="464.3" stroke="#222" stroke-width="0.9"/>
<rect x="428" y="441.5" width="12.5" height="55.5" fill="#2b4c88"/>
<line x1="434.25" y1="434" x2="434.25" y2="441.5" stroke="#222" stroke-width="0.9"/>
<line x1="432.75" y1="434" x2="435.75" y2="434" stroke="#222" stroke-width="0.9"/>
<rect x="466.3" y="438.8" width="13.0" height="58.19999999999999" fill="#c20a32"/>
<line x1="472.8" y1="430" x2="472.8" y2="438.8" stroke="#222" stroke-width="0.9"/>
<line x1="471.3" y1="430" x2="474.3" y2="430" stroke="#222" stroke-width="0.9"/>
<rect x="479.3" y="430" width="12.5" height="67" fill="#2b4c88"/>
<line x1="485.55" y1="417" x2="485.55" y2="430" stroke="#222" stroke-width="0.9"/>
<line x1="484.05" y1="417" x2="487.05" y2="417" stroke="#222" stroke-width="0.9"/>
<line x1="424" y1="426.4" x2="470.6" y2="426.4" stroke="#111" stroke-width="1.1"/>
<text x="448.40000000000003" y="427.29999999999995" font-size="7" text-anchor="middle" font-weight="normal" fill="#111" color="#111" letter-spacing="2.2">**</text>
<line x1="422.8" y1="433.1" x2="434.9" y2="433.1" stroke="#111" stroke-width="1.1"/>
<text x="429.95000000000005" y="434.0" font-size="7" text-anchor="middle" font-weight="normal" fill="#111" color="#111" letter-spacing="2.2">**</text>
<line x1="428" y1="497" x2="428" y2="499" stroke="#111" stroke-width="0.8"/>
<line x1="452.4" y1="497" x2="452.4" y2="499" stroke="#111" stroke-width="0.8"/>
<line x1="478.8" y1="497" x2="478.8" y2="499" stroke="#111" stroke-width="0.8"/>
<rect x="405.2" y="400.25" width="12.800000000000011" height="6.449999999999989" fill="#c20a32"/>
<rect x="405.2" y="410.8" width="12.800000000000011" height="6.800000000000011" fill="#2b4c88"/>
<text x="421.1" y="406.09999999999997" font-size="7.6" text-anchor="start" font-weight="normal" fill="#111" color="#111">ZT7</text>
<text x="421.1" y="416.90000000000003" font-size="7.6" text-anchor="start" font-weight="normal" fill="#111" color="#111">ZT19</text>
<text x="428" y="510.4" font-size="8" text-anchor="middle" font-weight="normal" fill="#111" color="#111">PBS</text>
<text x="478.8" y="510.4" font-size="8" text-anchor="middle" font-weight="normal" fill="#111" color="#111">LY228820</text>
<text x="367.8" y="454.5" font-size="8.45" text-anchor="middle" font-weight="normal" fill="#111" color="#111" transform="rotate(-90 367.8 454.5)">mCD45<tspan font-size="5" dy="-3">+</tspan> ROS MFI</text>
<line x1="60.5" y1="568.25" x2="60.5" y2="665.5" stroke="#111" stroke-width="1.3"/>
<line x1="60.5" y1="665.5" x2="157.5" y2="665.5" stroke="#111" stroke-width="1.3"/>
<line x1="57.5" y1="571.25" x2="60.5" y2="571.25" stroke="#111" stroke-width="1.1"/>
<text x="53.3" y="573.75" font-size="7.3" text-anchor="end" font-weight="normal" fill="#111" color="#111">6000</text>
<line x1="57.5" y1="618.75" x2="60.5" y2="618.75" stroke="#111" stroke-width="1.1"/>
<text x="53.3" y="621.25" font-size="7.3" text-anchor="end" font-weight="normal" fill="#111" color="#111">3000</text>
<line x1="57.5" y1="665.5" x2="60.5" y2="665.5" stroke="#111" stroke-width="1.1"/>
<text x="53.3" y="668.0" font-size="7.3" text-anchor="end" font-weight="normal" fill="#111" color="#111">0</text>
<line x1="59.0" y1="595" x2="60.5" y2="595" stroke="#111" stroke-width="0.8"/>
<line x1="59.0" y1="642" x2="60.5" y2="642" stroke="#111" stroke-width="0.8"/>
<rect x="73.25" y="604.25" width="12.5" height="61.25" fill="#c20a32"/>
<line x1="79.5" y1="597.5" x2="79.5" y2="604.25" stroke="#222" stroke-width="0.9"/>
<line x1="78.0" y1="597.5" x2="81.0" y2="597.5" stroke="#222" stroke-width="0.9"/>
<rect x="85.75" y="636.75" width="13.0" height="28.75" fill="#2b4c88"/>
<line x1="92.25" y1="630" x2="92.25" y2="636.75" stroke="#222" stroke-width="0.9"/>
<line x1="90.75" y1="630" x2="93.75" y2="630" stroke="#222" stroke-width="0.9"/>
<rect x="127.5" y="631.25" width="12.5" height="34.25" fill="#c20a32"/>
<line x1="133.75" y1="621.75" x2="133.75" y2="631.25" stroke="#222" stroke-width="0.9"/>
<line x1="132.25" y1="621.75" x2="135.25" y2="621.75" stroke="#222" stroke-width="0.9"/>
<rect x="140" y="638" width="12.5" height="27.5" fill="#2b4c88"/>
<line x1="146.25" y1="633" x2="146.25" y2="638" stroke="#222" stroke-width="0.9"/>
<line x1="144.75" y1="633" x2="147.75" y2="633" stroke="#222" stroke-width="0.9"/>
<line x1="82.1" y1="593.2" x2="131.2" y2="593.2" stroke="#111" stroke-width="1.1"/>
<text x="107.74999999999999" y="594.1" font-size="7" text-anchor="middle" font-weight="normal" fill="#111" color="#111" letter-spacing="2.2">*</text>
<line x1="82.4" y1="599.5" x2="94.5" y2="599.5" stroke="#111" stroke-width="1.1"/>
<text x="89.55" y="600.4" font-size="7" text-anchor="middle" font-weight="normal" fill="#111" color="#111" letter-spacing="2.2">**</text>
<line x1="86" y1="665.5" x2="86" y2="667.5" stroke="#111" stroke-width="0.8"/>
<line x1="112.4" y1="665.5" x2="112.4" y2="667.5" stroke="#111" stroke-width="0.8"/>
<line x1="140" y1="665.5" x2="140" y2="667.5" stroke="#111" stroke-width="0.8"/>
<rect x="63.5" y="568" width="12.400000000000006" height="7" fill="#c20a32"/>
<rect x="63.5" y="579" width="12.400000000000006" height="6.600000000000023" fill="#2b4c88"/>
<text x="78.5" y="574.4" font-size="7.6" text-anchor="start" font-weight="normal" fill="#111" color="#111">ZT7</text>
<text x="78.5" y="584.9" font-size="7.6" text-anchor="start" font-weight="normal" fill="#111" color="#111">ZT19</text>
<text x="85.7" y="678.6" font-size="8" text-anchor="middle" font-weight="normal" fill="#111" color="#111">PBS</text>
<text x="139.4" y="678.6" font-size="8" text-anchor="middle" font-weight="normal" fill="#111" color="#111">LY228820</text>
<text x="29.5" y="627" font-size="8.6" text-anchor="middle" font-weight="normal" fill="#111" color="#111" transform="rotate(-90 29.5 627)">hCD45<tspan font-size="5" dy="-3">+</tspan> ROS MFI</text>
<line x1="60" y1="400.9" x2="60" y2="497.2" stroke="#111" stroke-width="1.3"/>
<line x1="60" y1="497.2" x2="172" y2="497.2" stroke="#111" stroke-width="1.3"/>
<line x1="57" y1="497.2" x2="60" y2="497.2" stroke="#111" stroke-width="1.1"/>
<text x="53.7" y="499.7" font-size="7.3" text-anchor="end" font-weight="normal" fill="#111" color="#111">0</text>
<line x1="57" y1="473.9" x2="60" y2="473.9" stroke="#111" stroke-width="1.1"/>
<text x="53.7" y="476.4" font-size="7.3" text-anchor="end" font-weight="normal" fill="#111" color="#111">1</text>
<line x1="57" y1="450.59999999999997" x2="60" y2="450.59999999999997" stroke="#111" stroke-width="1.1"/>
<text x="53.7" y="453.09999999999997" font-size="7.3" text-anchor="end" font-weight="normal" fill="#111" color="#111">2</text>
<line x1="57" y1="427.29999999999995" x2="60" y2="427.29999999999995" stroke="#111" stroke-width="1.1"/>
<text x="53.7" y="429.79999999999995" font-size="7.3" text-anchor="end" font-weight="normal" fill="#111" color="#111">3</text>
<line x1="57" y1="404.0" x2="60" y2="404.0" stroke="#111" stroke-width="1.1"/>
<text x="53.7" y="406.5" font-size="7.3" text-anchor="end" font-weight="normal" fill="#111" color="#111">4</text>
<line x1="58.5" y1="485.54999999999995" x2="60" y2="485.54999999999995" stroke="#111" stroke-width="0.8"/>
<line x1="58.5" y1="462.25" x2="60" y2="462.25" stroke="#111" stroke-width="0.8"/>
<line x1="58.5" y1="438.94999999999993" x2="60" y2="438.94999999999993" stroke="#111" stroke-width="0.8"/>
<line x1="58.5" y1="415.65" x2="60" y2="415.65" stroke="#111" stroke-width="0.8"/>
<line x1="71.5" y1="497.2" x2="71.5" y2="499.8" stroke="#111" stroke-width="0.9"/>
<line x1="93.5" y1="497.2" x2="93.5" y2="499.8" stroke="#111" stroke-width="0.9"/>
<line x1="115.6" y1="497.2" x2="115.6" y2="499.8" stroke="#111" stroke-width="0.9"/>
<line x1="137.5" y1="497.2" x2="137.5" y2="499.8" stroke="#111" stroke-width="0.9"/>
<line x1="159.4" y1="497.2" x2="159.4" y2="499.8" stroke="#111" stroke-width="0.9"/>
<text x="71.5" y="511.3" font-size="7.8" text-anchor="middle" font-weight="normal" fill="#111" color="#111">ZT1</text>
<text x="93.5" y="511.3" font-size="7.8" text-anchor="middle" font-weight="normal" fill="#111" color="#111">ZT7</text>
<text x="115.6" y="511.3" font-size="7.8" text-anchor="middle" font-weight="normal" fill="#111" color="#111">ZT13</text>
<text x="137.5" y="511.3" font-size="7.8" text-anchor="middle" font-weight="normal" fill="#111" color="#111">ZT19</text>
<text x="159.4" y="511.3" font-size="7.8" text-anchor="middle" font-weight="normal" fill="#111" color="#111">ZT25</text>
<line x1="93.5" y1="415.65" x2="93.5" y2="444.775" stroke="#5fa04a" stroke-width="0.8"/>
<line x1="92.3" y1="415.65" x2="94.7" y2="415.65" stroke="#5fa04a" stroke-width="0.8"/>
<line x1="92.3" y1="444.775" x2="94.7" y2="444.775" stroke="#5fa04a" stroke-width="0.8"/>
<line x1="115.6" y1="470.405" x2="115.6" y2="484.385" stroke="#5fa04a" stroke-width="0.8"/>
<line x1="114.39999999999999" y1="470.405" x2="116.8" y2="470.405" stroke="#5fa04a" stroke-width="0.8"/>
<line x1="114.39999999999999" y1="484.385" x2="116.8" y2="484.385" stroke="#5fa04a" stroke-width="0.8"/>
<line x1="137.5" y1="487.88" x2="137.5" y2="492.53999999999996" stroke="#5fa04a" stroke-width="0.8"/>
<line x1="136.3" y1="487.88" x2="138.7" y2="487.88" stroke="#5fa04a" stroke-width="0.8"/>
<line x1="136.3" y1="492.53999999999996" x2="138.7" y2="492.53999999999996" stroke="#5fa04a" stroke-width="0.8"/>
<line x1="159.4" y1="451.765" x2="159.4" y2="477.395" stroke="#5fa04a" stroke-width="0.8"/>
<line x1="158.20000000000002" y1="451.765" x2="160.6" y2="451.765" stroke="#5fa04a" stroke-width="0.8"/>
<line x1="158.20000000000002" y1="477.395" x2="160.6" y2="477.395" stroke="#5fa04a" stroke-width="0.8"/>
<line x1="93.5" y1="458.755" x2="93.5" y2="478.56" stroke="#921339" stroke-width="0.8"/>
<line x1="92.3" y1="458.755" x2="94.7" y2="458.755" stroke="#921339" stroke-width="0.8"/>
<line x1="92.3" y1="478.56" x2="94.7" y2="478.56" stroke="#921339" stroke-width="0.8"/>
<line x1="115.6" y1="444.775" x2="115.6" y2="478.56" stroke="#921339" stroke-width="0.8"/>
<line x1="114.39999999999999" y1="444.775" x2="116.8" y2="444.775" stroke="#921339" stroke-width="0.8"/>
<line x1="114.39999999999999" y1="478.56" x2="116.8" y2="478.56" stroke="#921339" stroke-width="0.8"/>
<line x1="137.5" y1="461.085" x2="137.5" y2="479.72499999999997" stroke="#921339" stroke-width="0.8"/>
<line x1="136.3" y1="461.085" x2="138.7" y2="461.085" stroke="#921339" stroke-width="0.8"/>
<line x1="136.3" y1="479.72499999999997" x2="138.7" y2="479.72499999999997" stroke="#921339" stroke-width="0.8"/>
<line x1="159.4" y1="452.93" x2="159.4" y2="478.56" stroke="#921339" stroke-width="0.8"/>
<line x1="158.20000000000002" y1="452.93" x2="160.6" y2="452.93" stroke="#921339" stroke-width="0.8"/>
<line x1="158.20000000000002" y1="478.56" x2="160.6" y2="478.56" stroke="#921339" stroke-width="0.8"/>
<polyline points="71.50,473.90 93.50,430.79 115.60,477.39 137.50,490.21 159.40,464.58" fill="none" stroke="#5fa04a" stroke-width="1.5" stroke-linejoin="round"/>
<circle cx="71.5" cy="473.9" r="1.8" fill="#5fa04a"/>
<circle cx="93.5" cy="430.79499999999996" r="1.8" fill="#5fa04a"/>
<circle cx="115.6" cy="477.395" r="1.8" fill="#5fa04a"/>
<circle cx="137.5" cy="490.21" r="1.8" fill="#5fa04a"/>
<circle cx="159.4" cy="464.58" r="1.8" fill="#5fa04a"/>
<polyline points="71.50,473.90 93.50,468.77 115.60,460.62 137.50,469.71 159.40,466.21" fill="none" stroke="#921339" stroke-width="1.5" stroke-linejoin="round"/>
<circle cx="71.5" cy="473.9" r="1.8" fill="#921339"/>
<circle cx="93.5" cy="468.774" r="1.8" fill="#921339"/>
<circle cx="115.6" cy="460.61899999999997" r="1.8" fill="#921339"/>
<circle cx="137.5" cy="469.706" r="1.8" fill="#921339"/>
<circle cx="159.4" cy="466.211" r="1.8" fill="#921339"/>
<text x="94.05" y="414.6" font-size="7" text-anchor="middle" font-weight="normal" fill="#111" color="#111" letter-spacing="1.1">**</text>
<text x="138.05" y="486.1" font-size="7" text-anchor="middle" font-weight="normal" fill="#111" color="#111" letter-spacing="1.1">*</text>
<line x1="121.9" y1="402.8" x2="134" y2="402.8" stroke="#5fa04a" stroke-width="1.7"/>
<circle cx="127.95" cy="402.8" r="2" fill="#5fa04a"/>
<text x="137.5" y="405.3" font-size="7.6" text-anchor="start" font-weight="normal" fill="#111" color="#111">PBS</text>
<line x1="121.9" y1="411.7" x2="134" y2="411.7" stroke="#921339" stroke-width="1.7"/>
<circle cx="127.95" cy="411.7" r="2" fill="#921339"/>
<text x="137.5" y="414.2" font-size="7.6" text-anchor="start" font-weight="normal" fill="#111" color="#111">LY228820</text>
<text x="116.8" y="391.2" font-size="9.9" text-anchor="middle" font-weight="normal" fill="#111" color="#111">Humice mCD45<tspan font-size="6.5" dy="-3.2">+</tspan></text>
<line x1="78.6" y1="393.2" x2="155" y2="393.2" stroke="#111" stroke-width="0.9"/>
<rect x="68.3" y="514.9" width="89.39999999999999" height="8.0" fill="#000"/>
<rect x="69.5" y="516.1" width="43.400000000000006" height="5.599999999999909" fill="#fff"/>
<text x="43.5" y="449.5" font-size="8.3" text-anchor="middle" font-weight="normal" fill="#111" color="#111" transform="rotate(-90 43.5 449.5)">Fold changes</text>
<line x1="218.6" y1="400.9" x2="218.6" y2="497.2" stroke="#111" stroke-width="1.3"/>
<line x1="218.6" y1="497.2" x2="331" y2="497.2" stroke="#111" stroke-width="1.3"/>
<line x1="215.6" y1="497.2" x2="218.6" y2="497.2" stroke="#111" stroke-width="1.1"/>
<text x="212.29999999999998" y="499.7" font-size="7.3" text-anchor="end" font-weight="normal" fill="#111" color="#111">0</text>
<line x1="215.6" y1="473.9" x2="218.6" y2="473.9" stroke="#111" stroke-width="1.1"/>
<text x="212.29999999999998" y="476.4" font-size="7.3" text-anchor="end" font-weight="normal" fill="#111" color="#111">1</text>
<line x1="215.6" y1="450.59999999999997" x2="218.6" y2="450.59999999999997" stroke="#111" stroke-width="1.1"/>
<text x="212.29999999999998" y="453.09999999999997" font-size="7.3" text-anchor="end" font-weight="normal" fill="#111" color="#111">2</text>
<line x1="215.6" y1="427.29999999999995" x2="218.6" y2="427.29999999999995" stroke="#111" stroke-width="1.1"/>
<text x="212.29999999999998" y="429.79999999999995" font-size="7.3" text-anchor="end" font-weight="normal" fill="#111" color="#111">3</text>
<line x1="215.6" y1="404.0" x2="218.6" y2="404.0" stroke="#111" stroke-width="1.1"/>
<text x="212.29999999999998" y="406.5" font-size="7.3" text-anchor="end" font-weight="normal" fill="#111" color="#111">4</text>
<line x1="217.1" y1="485.54999999999995" x2="218.6" y2="485.54999999999995" stroke="#111" stroke-width="0.8"/>
<line x1="217.1" y1="462.25" x2="218.6" y2="462.25" stroke="#111" stroke-width="0.8"/>
<line x1="217.1" y1="438.94999999999993" x2="218.6" y2="438.94999999999993" stroke="#111" stroke-width="0.8"/>
<line x1="217.1" y1="415.65" x2="218.6" y2="415.65" stroke="#111" stroke-width="0.8"/>
<line x1="230.4" y1="497.2" x2="230.4" y2="499.8" stroke="#111" stroke-width="0.9"/>
<line x1="252.2" y1="497.2" x2="252.2" y2="499.8" stroke="#111" stroke-width="0.9"/>
<line x1="274.3" y1="497.2" x2="274.3" y2="499.8" stroke="#111" stroke-width="0.9"/>
<line x1="296.2" y1="497.2" x2="296.2" y2="499.8" stroke="#111" stroke-width="0.9"/>
<line x1="318" y1="497.2" x2="318" y2="499.8" stroke="#111" stroke-width="0.9"/>
<text x="230.4" y="511.3" font-size="7.8" text-anchor="middle" font-weight="normal" fill="#111" color="#111">ZT1</text>
<text x="252.2" y="511.3" font-size="7.8" text-anchor="middle" font-weight="normal" fill="#111" color="#111">ZT7</text>
<text x="274.3" y="511.3" font-size="7.8" text-anchor="middle" font-weight="normal" fill="#111" color="#111">ZT13</text>
<text x="296.2" y="511.3" font-size="7.8" text-anchor="middle" font-weight="normal" fill="#111" color="#111">ZT19</text>
<text x="318" y="511.3" font-size="7.8" text-anchor="middle" font-weight="normal" fill="#111" color="#111">ZT25</text>
<line x1="252.2" y1="452.231" x2="252.2" y2="472.735" stroke="#5fa04a" stroke-width="0.8"/>
<line x1="251.0" y1="452.231" x2="253.39999999999998" y2="452.231" stroke="#5fa04a" stroke-width="0.8"/>
<line x1="251.0" y1="472.735" x2="253.39999999999998" y2="472.735" stroke="#5fa04a" stroke-width="0.8"/>
<line x1="274.3" y1="442.445" x2="274.3" y2="457.59" stroke="#5fa04a" stroke-width="0.8"/>
<line x1="273.1" y1="442.445" x2="275.5" y2="442.445" stroke="#5fa04a" stroke-width="0.8"/>
<line x1="273.1" y1="457.59" x2="275.5" y2="457.59" stroke="#5fa04a" stroke-width="0.8"/>
<line x1="296.2" y1="426.135" x2="296.2" y2="444.775" stroke="#5fa04a" stroke-width="0.8"/>
<line x1="295.0" y1="426.135" x2="297.4" y2="426.135" stroke="#5fa04a" stroke-width="0.8"/>
<line x1="295.0" y1="444.775" x2="297.4" y2="444.775" stroke="#5fa04a" stroke-width="0.8"/>
<line x1="318" y1="464.114" x2="318" y2="483.21999999999997" stroke="#5fa04a" stroke-width="0.8"/>
<line x1="316.8" y1="464.114" x2="319.2" y2="464.114" stroke="#5fa04a" stroke-width="0.8"/>
<line x1="316.8" y1="483.21999999999997" x2="319.2" y2="483.21999999999997" stroke="#5fa04a" stroke-width="0.8"/>
<line x1="252.2" y1="468.075" x2="252.2" y2="489.51099999999997" stroke="#921339" stroke-width="0.8"/>
<line x1="251.0" y1="468.075" x2="253.39999999999998" y2="468.075" stroke="#921339" stroke-width="0.8"/>
<line x1="251.0" y1="489.51099999999997" x2="253.39999999999998" y2="489.51099999999997" stroke="#921339" stroke-width="0.8"/>
<line x1="274.3" y1="449.435" x2="274.3" y2="478.56" stroke="#921339" stroke-width="0.8"/>
<line x1="273.1" y1="449.435" x2="275.5" y2="449.435" stroke="#921339" stroke-width="0.8"/>
<line x1="273.1" y1="478.56" x2="275.5" y2="478.56" stroke="#921339" stroke-width="0.8"/>
<line x1="296.2" y1="462.716" x2="296.2" y2="473.9" stroke="#921339" stroke-width="0.8"/>
<line x1="295.0" y1="462.716" x2="297.4" y2="462.716" stroke="#921339" stroke-width="0.8"/>
<line x1="295.0" y1="473.9" x2="297.4" y2="473.9" stroke="#921339" stroke-width="0.8"/>
<line x1="318" y1="467.609" x2="318" y2="489.045" stroke="#921339" stroke-width="0.8"/>
<line x1="316.8" y1="467.609" x2="319.2" y2="467.609" stroke="#921339" stroke-width="0.8"/>
<line x1="316.8" y1="489.045" x2="319.2" y2="489.045" stroke="#921339" stroke-width="0.8"/>
<polyline points="230.40,473.90 252.20,462.72 274.30,450.60 296.20,435.45 318.00,472.74" fill="none" stroke="#5fa04a" stroke-width="1.5" stroke-linejoin="round"/>
<circle cx="230.4" cy="473.9" r="1.8" fill="#5fa04a"/>
<circle cx="252.2" cy="462.716" r="1.8" fill="#5fa04a"/>
<circle cx="274.3" cy="450.59999999999997" r="1.8" fill="#5fa04a"/>
<circle cx="296.2" cy="435.455" r="1.8" fill="#5fa04a"/>
<circle cx="318" cy="472.735" r="1.8" fill="#5fa04a"/>
<polyline points="230.40,473.90 252.20,478.56 274.30,463.41 296.20,468.54 318.00,478.56" fill="none" stroke="#921339" stroke-width="1.5" stroke-linejoin="round"/>
<circle cx="230.4" cy="473.9" r="1.8" fill="#921339"/>
<circle cx="252.2" cy="478.56" r="1.8" fill="#921339"/>
<circle cx="274.3" cy="463.41499999999996" r="1.8" fill="#921339"/>
<circle cx="296.2" cy="468.541" r="1.8" fill="#921339"/>
<circle cx="318" cy="478.56" r="1.8" fill="#921339"/>
<text x="296.75" y="425.1" font-size="7" text-anchor="middle" font-weight="normal" fill="#111" color="#111" letter-spacing="1.1">**</text>
<line x1="225.2" y1="403.7" x2="238.5" y2="403.7" stroke="#5fa04a" stroke-width="1.7"/>
<circle cx="231.85" cy="403.7" r="2" fill="#5fa04a"/>
<text x="241.9" y="406.2" font-size="7.6" text-anchor="start" font-weight="normal" fill="#111" color="#111">PBS</text>
<line x1="225.2" y1="413.2" x2="238.5" y2="413.2" stroke="#921339" stroke-width="1.7"/>
<circle cx="231.85" cy="413.2" r="2" fill="#921339"/>
<text x="241.9" y="415.7" font-size="7.6" text-anchor="start" font-weight="normal" fill="#111" color="#111">LY228820</text>
<text x="273.75" y="391.2" font-size="9.9" text-anchor="middle" font-weight="normal" fill="#111" color="#111">Humice hCD45<tspan font-size="6.5" dy="-3.2">+</tspan></text>
<line x1="237.5" y1="393.2" x2="310" y2="393.2" stroke="#111" stroke-width="0.9"/>
<rect x="224.8" y="515" width="88.19999999999999" height="7.7999999999999545" fill="#000"/>
<rect x="226.0" y="516.2" width="42.69999999999999" height="5.399999999999864" fill="#fff"/>
<text x="202" y="449.5" font-size="8.3" text-anchor="middle" font-weight="normal" fill="#111" color="#111" transform="rotate(-90 202 449.5)">Fold changes</text>
<line x1="219.8" y1="561.5" x2="219.8" y2="664.3" stroke="#111" stroke-width="1.3"/>
<line x1="219.8" y1="664.3" x2="327.5" y2="664.3" stroke="#111" stroke-width="1.3"/>
<line x1="216.8" y1="564.52" x2="219.8" y2="564.52" stroke="#111" stroke-width="1.1"/>
<text x="213.5" y="567.02" font-size="7.3" text-anchor="end" font-weight="normal" fill="#111" color="#111">6</text>
<line x1="216.8" y1="614.41" x2="219.8" y2="614.41" stroke="#111" stroke-width="1.1"/>
<text x="213.5" y="616.91" font-size="7.3" text-anchor="end" font-weight="normal" fill="#111" color="#111">3</text>
<line x1="216.8" y1="664.3" x2="219.8" y2="664.3" stroke="#111" stroke-width="1.1"/>
<text x="213.5" y="666.8" font-size="7.3" text-anchor="end" font-weight="normal" fill="#111" color="#111">0</text>
<line x1="218.3" y1="589.4649999999999" x2="219.8" y2="589.4649999999999" stroke="#111" stroke-width="0.8"/>
<line x1="218.3" y1="639.355" x2="219.8" y2="639.355" stroke="#111" stroke-width="0.8"/>
<line x1="230.4" y1="664.3" x2="230.4" y2="666.9" stroke="#111" stroke-width="0.9"/>
<line x1="252.5" y1="664.3" x2="252.5" y2="666.9" stroke="#111" stroke-width="0.9"/>
<line x1="274.3" y1="664.3" x2="274.3" y2="666.9" stroke="#111" stroke-width="0.9"/>
<line x1="296.4" y1="664.3" x2="296.4" y2="666.9" stroke="#111" stroke-width="0.9"/>
<line x1="318.4" y1="664.3" x2="318.4" y2="666.9" stroke="#111" stroke-width="0.9"/>
<text x="230.4" y="677.5" font-size="7.8" text-anchor="middle" font-weight="normal" fill="#111" color="#111">ZT1</text>
<text x="252.5" y="677.5" font-size="7.8" text-anchor="middle" font-weight="normal" fill="#111" color="#111">ZT7</text>
<text x="274.3" y="677.5" font-size="7.8" text-anchor="middle" font-weight="normal" fill="#111" color="#111">ZT13</text>
<text x="296.4" y="677.5" font-size="7.8" text-anchor="middle" font-weight="normal" fill="#111" color="#111">ZT19</text>
<text x="318.4" y="677.5" font-size="7.8" text-anchor="middle" font-weight="normal" fill="#111" color="#111">ZT25</text>
<line x1="252.5" y1="642.6809999999999" x2="252.5" y2="655.1535" stroke="#5fa04a" stroke-width="0.8"/>
<line x1="251.3" y1="642.6809999999999" x2="253.7" y2="642.6809999999999" stroke="#5fa04a" stroke-width="0.8"/>
<line x1="251.3" y1="655.1535" x2="253.7" y2="655.1535" stroke="#5fa04a" stroke-width="0.8"/>
<line x1="274.3" y1="618.5675" x2="274.3" y2="644.3439999999999" stroke="#5fa04a" stroke-width="0.8"/>
<line x1="273.1" y1="618.5675" x2="275.5" y2="618.5675" stroke="#5fa04a" stroke-width="0.8"/>
<line x1="273.1" y1="644.3439999999999" x2="275.5" y2="644.3439999999999" stroke="#5fa04a" stroke-width="0.8"/>
<line x1="296.4" y1="601.9375" x2="296.4" y2="627.7139999999999" stroke="#5fa04a" stroke-width="0.8"/>
<line x1="295.2" y1="601.9375" x2="297.59999999999997" y2="601.9375" stroke="#5fa04a" stroke-width="0.8"/>
<line x1="295.2" y1="627.7139999999999" x2="297.59999999999997" y2="627.7139999999999" stroke="#5fa04a" stroke-width="0.8"/>
<line x1="318.4" y1="633.5345" x2="318.4" y2="651.4948999999999" stroke="#5fa04a" stroke-width="0.8"/>
<line x1="317.2" y1="633.5345" x2="319.59999999999997" y2="633.5345" stroke="#5fa04a" stroke-width="0.8"/>
<line x1="317.2" y1="651.4948999999999" x2="319.59999999999997" y2="651.4948999999999" stroke="#5fa04a" stroke-width="0.8"/>
<line x1="252.5" y1="631.04" x2="252.5" y2="647.67" stroke="#921339" stroke-width="0.8"/>
<line x1="251.3" y1="631.04" x2="253.7" y2="631.04" stroke="#921339" stroke-width="0.8"/>
<line x1="251.3" y1="647.67" x2="253.7" y2="647.67" stroke="#921339" stroke-width="0.8"/>
<line x1="274.3" y1="638.5235" x2="274.3" y2="652.1600999999999" stroke="#921339" stroke-width="0.8"/>
<line x1="273.1" y1="638.5235" x2="275.5" y2="638.5235" stroke="#921339" stroke-width="0.8"/>
<line x1="273.1" y1="652.1600999999999" x2="275.5" y2="652.1600999999999" stroke="#921339" stroke-width="0.8"/>
<line x1="296.4" y1="639.6876" x2="296.4" y2="660.9739999999999" stroke="#921339" stroke-width="0.8"/>
<line x1="295.2" y1="639.6876" x2="297.59999999999997" y2="639.6876" stroke="#921339" stroke-width="0.8"/>
<line x1="295.2" y1="660.9739999999999" x2="297.59999999999997" y2="660.9739999999999" stroke="#921339" stroke-width="0.8"/>
<line x1="318.4" y1="633.5345" x2="318.4" y2="651.4948999999999" stroke="#921339" stroke-width="0.8"/>
<line x1="317.2" y1="633.5345" x2="319.59999999999997" y2="633.5345" stroke="#921339" stroke-width="0.8"/>
<line x1="317.2" y1="651.4948999999999" x2="319.59999999999997" y2="651.4948999999999" stroke="#921339" stroke-width="0.8"/>
<polyline points="230.40,647.67 252.50,647.67 274.30,633.20 296.40,614.41 318.40,642.68" fill="none" stroke="#5fa04a" stroke-width="1.5" stroke-linejoin="round"/>
<rect x="228.70000000000002" y="645.9699999999999" width="3.3999999999999773" height="3.400000000000091" fill="#5fa04a"/>
<rect x="250.8" y="645.9699999999999" width="3.3999999999999773" height="3.400000000000091" fill="#5fa04a"/>
<rect x="272.6" y="631.5018999999999" width="3.3999999999999773" height="3.400000000000091" fill="#5fa04a"/>
<rect x="294.7" y="612.7099999999999" width="3.3999999999999773" height="3.400000000000091" fill="#5fa04a"/>
<rect x="316.7" y="640.9809999999999" width="3.3999999999999773" height="3.400000000000091" fill="#5fa04a"/>
<polyline points="230.40,647.67 252.50,640.19 274.30,645.51 296.40,651.00 318.40,642.68" fill="none" stroke="#921339" stroke-width="1.5" stroke-linejoin="round"/>
<rect x="228.70000000000002" y="645.9699999999999" width="3.3999999999999773" height="3.400000000000091" fill="#921339"/>
<rect x="250.8" y="638.4864999999999" width="3.3999999999999773" height="3.400000000000091" fill="#921339"/>
<rect x="272.6" y="643.8081" width="3.3999999999999773" height="3.400000000000091" fill="#921339"/>
<rect x="294.7" y="649.2959999999999" width="3.3999999999999773" height="3.400000000000091" fill="#921339"/>
<rect x="316.7" y="640.9809999999999" width="3.3999999999999773" height="3.400000000000091" fill="#921339"/>
<text x="296.95" y="601.9" font-size="7" text-anchor="middle" font-weight="normal" fill="#111" color="#111" letter-spacing="1.1">**</text>
<line x1="222.5" y1="569.8" x2="235.8" y2="569.8" stroke="#5fa04a" stroke-width="1.7"/>
<rect x="227.35" y="568.0" width="3.6000000000000227" height="3.599999999999909" fill="#5fa04a"/>
<text x="239.2" y="572.3" font-size="7.6" text-anchor="start" font-weight="normal" fill="#111" color="#111">PBS</text>
<line x1="222.5" y1="579.6" x2="235.8" y2="579.6" stroke="#921339" stroke-width="1.7"/>
<rect x="227.35" y="577.8000000000001" width="3.6000000000000227" height="3.599999999999909" fill="#921339"/>
<text x="239.2" y="582.1" font-size="7.6" text-anchor="start" font-weight="normal" fill="#111" color="#111">LY228820</text>
<rect x="228.3" y="682.2" width="87.89999999999998" height="8.0" fill="#000"/>
<rect x="229.5" y="683.4000000000001" width="42.10000000000002" height="5.599999999999909" fill="#fff"/>
<text x="203.5" y="614" font-size="8.3" text-anchor="middle" font-weight="normal" fill="#111" color="#111" transform="rotate(-90 203.5 614)">Relative mRNA level</text>
<line x1="402.1" y1="559.1" x2="402.1" y2="664.3" stroke="#111" stroke-width="1.3"/>
<line x1="402.1" y1="664.3" x2="512" y2="664.3" stroke="#111" stroke-width="1.3"/>
<line x1="399.1" y1="562.06" x2="402.1" y2="562.06" stroke="#111" stroke-width="1.1"/>
<text x="395.8" y="564.56" font-size="7.3" text-anchor="end" font-weight="normal" fill="#111" color="#111">8</text>
<line x1="399.1" y1="613.18" x2="402.1" y2="613.18" stroke="#111" stroke-width="1.1"/>
<text x="395.8" y="615.68" font-size="7.3" text-anchor="end" font-weight="normal" fill="#111" color="#111">4</text>
<line x1="399.1" y1="664.3" x2="402.1" y2="664.3" stroke="#111" stroke-width="1.1"/>
<text x="395.8" y="666.8" font-size="7.3" text-anchor="end" font-weight="normal" fill="#111" color="#111">0</text>
<line x1="400.6" y1="587.6199999999999" x2="402.1" y2="587.6199999999999" stroke="#111" stroke-width="0.8"/>
<line x1="400.6" y1="638.74" x2="402.1" y2="638.74" stroke="#111" stroke-width="0.8"/>
<line x1="412.3" y1="664.3" x2="412.3" y2="666.9" stroke="#111" stroke-width="0.9"/>
<line x1="434.7" y1="664.3" x2="434.7" y2="666.9" stroke="#111" stroke-width="0.9"/>
<line x1="456.2" y1="664.3" x2="456.2" y2="666.9" stroke="#111" stroke-width="0.9"/>
<line x1="477.8" y1="664.3" x2="477.8" y2="666.9" stroke="#111" stroke-width="0.9"/>
<line x1="499.3" y1="664.3" x2="499.3" y2="666.9" stroke="#111" stroke-width="0.9"/>
<text x="412.3" y="677.5" font-size="7.8" text-anchor="middle" font-weight="normal" fill="#111" color="#111">ZT1</text>
<text x="434.7" y="677.5" font-size="7.8" text-anchor="middle" font-weight="normal" fill="#111" color="#111">ZT7</text>
<text x="456.2" y="677.5" font-size="7.8" text-anchor="middle" font-weight="normal" fill="#111" color="#111">ZT13</text>
<text x="477.8" y="677.5" font-size="7.8" text-anchor="middle" font-weight="normal" fill="#111" color="#111">ZT19</text>
<text x="499.3" y="677.5" font-size="7.8" text-anchor="middle" font-weight="normal" fill="#111" color="#111">ZT25</text>
<line x1="434.7" y1="605.512" x2="434.7" y2="637.462" stroke="#5fa04a" stroke-width="0.8"/>
<line x1="433.5" y1="605.512" x2="435.9" y2="605.512" stroke="#5fa04a" stroke-width="0.8"/>
<line x1="433.5" y1="637.462" x2="435.9" y2="637.462" stroke="#5fa04a" stroke-width="0.8"/>
<line x1="456.2" y1="635.2894" x2="456.2" y2="649.603" stroke="#5fa04a" stroke-width="0.8"/>
<line x1="455.0" y1="635.2894" x2="457.4" y2="635.2894" stroke="#5fa04a" stroke-width="0.8"/>
<line x1="455.0" y1="649.603" x2="457.4" y2="649.603" stroke="#5fa04a" stroke-width="0.8"/>
<line x1="477.8" y1="654.0759999999999" x2="477.8" y2="660.466" stroke="#5fa04a" stroke-width="0.8"/>
<line x1="476.6" y1="654.0759999999999" x2="479.0" y2="654.0759999999999" stroke="#5fa04a" stroke-width="0.8"/>
<line x1="476.6" y1="660.466" x2="479.0" y2="660.466" stroke="#5fa04a" stroke-width="0.8"/>
<line x1="499.3" y1="646.4079999999999" x2="499.3" y2="656.2486" stroke="#5fa04a" stroke-width="0.8"/>
<line x1="498.1" y1="646.4079999999999" x2="500.5" y2="646.4079999999999" stroke="#5fa04a" stroke-width="0.8"/>
<line x1="498.1" y1="656.2486" x2="500.5" y2="656.2486" stroke="#5fa04a" stroke-width="0.8"/>
<line x1="434.7" y1="649.603" x2="434.7" y2="661.7439999999999" stroke="#921339" stroke-width="0.8"/>
<line x1="433.5" y1="649.603" x2="435.9" y2="649.603" stroke="#921339" stroke-width="0.8"/>
<line x1="433.5" y1="661.7439999999999" x2="435.9" y2="661.7439999999999" stroke="#921339" stroke-width="0.8"/>
<line x1="456.2" y1="640.9126" x2="456.2" y2="652.2868" stroke="#921339" stroke-width="0.8"/>
<line x1="455.0" y1="640.9126" x2="457.4" y2="640.9126" stroke="#921339" stroke-width="0.8"/>
<line x1="455.0" y1="652.2868" x2="457.4" y2="652.2868" stroke="#921339" stroke-width="0.8"/>
<line x1="477.8" y1="646.2801999999999" x2="477.8" y2="657.6544" stroke="#921339" stroke-width="0.8"/>
<line x1="476.6" y1="646.2801999999999" x2="479.0" y2="646.2801999999999" stroke="#921339" stroke-width="0.8"/>
<line x1="476.6" y1="657.6544" x2="479.0" y2="657.6544" stroke="#921339" stroke-width="0.8"/>
<line x1="499.3" y1="618.0364" x2="499.3" y2="657.1432" stroke="#921339" stroke-width="0.8"/>
<line x1="498.1" y1="618.0364" x2="500.5" y2="618.0364" stroke="#921339" stroke-width="0.8"/>
<line x1="498.1" y1="657.1432" x2="500.5" y2="657.1432" stroke="#921339" stroke-width="0.8"/>
<polyline points="412.30,651.52 434.70,621.49 456.20,644.24 477.80,657.65 499.30,650.24" fill="none" stroke="#5fa04a" stroke-width="1.5" stroke-linejoin="round"/>
<circle cx="412.3" cy="651.52" r="1.8" fill="#5fa04a"/>
<circle cx="434.7" cy="621.487" r="1.8" fill="#5fa04a"/>
<circle cx="456.2" cy="644.2353999999999" r="1.8" fill="#5fa04a"/>
<circle cx="477.8" cy="657.6544" r="1.8" fill="#5fa04a"/>
<circle cx="499.3" cy="650.242" r="1.8" fill="#5fa04a"/>
<polyline points="412.30,651.52 434.70,656.89 456.20,646.79 477.80,653.56 499.30,636.18" fill="none" stroke="#921339" stroke-width="1.5" stroke-linejoin="round"/>
<circle cx="412.3" cy="651.52" r="1.8" fill="#921339"/>
<circle cx="434.7" cy="656.8875999999999" r="1.8" fill="#921339"/>
<circle cx="456.2" cy="646.7914" r="1.8" fill="#921339"/>
<circle cx="477.8" cy="653.5648" r="1.8" fill="#921339"/>
<circle cx="499.3" cy="636.184" r="1.8" fill="#921339"/>
<text x="435.25" y="604.4" font-size="7" text-anchor="middle" font-weight="normal" fill="#111" color="#111" letter-spacing="1.1">**</text>
<line x1="405.2" y1="562.4" x2="417.5" y2="562.4" stroke="#5fa04a" stroke-width="1.7"/>
<circle cx="411.35" cy="562.4" r="2" fill="#5fa04a"/>
<text x="421.1" y="564.9" font-size="7.6" text-anchor="start" font-weight="normal" fill="#111" color="#111">PBS</text>
<line x1="405.2" y1="572.2" x2="417.5" y2="572.2" stroke="#921339" stroke-width="1.7"/>
<circle cx="411.35" cy="572.2" r="2" fill="#921339"/>
<text x="421.1" y="574.7" font-size="7.6" text-anchor="start" font-weight="normal" fill="#111" color="#111">LY228820</text>
<rect x="411" y="682.4" width="97.5" height="8.0" fill="#000"/>
<rect x="412.2" y="683.6" width="47.80000000000001" height="5.599999999999909" fill="#fff"/>
<text x="386" y="612" font-size="8.3" text-anchor="middle" font-weight="normal" fill="#111" color="#111" transform="rotate(-90 386 612)">Relative mRNA level</text>
</svg>
</body></html>
